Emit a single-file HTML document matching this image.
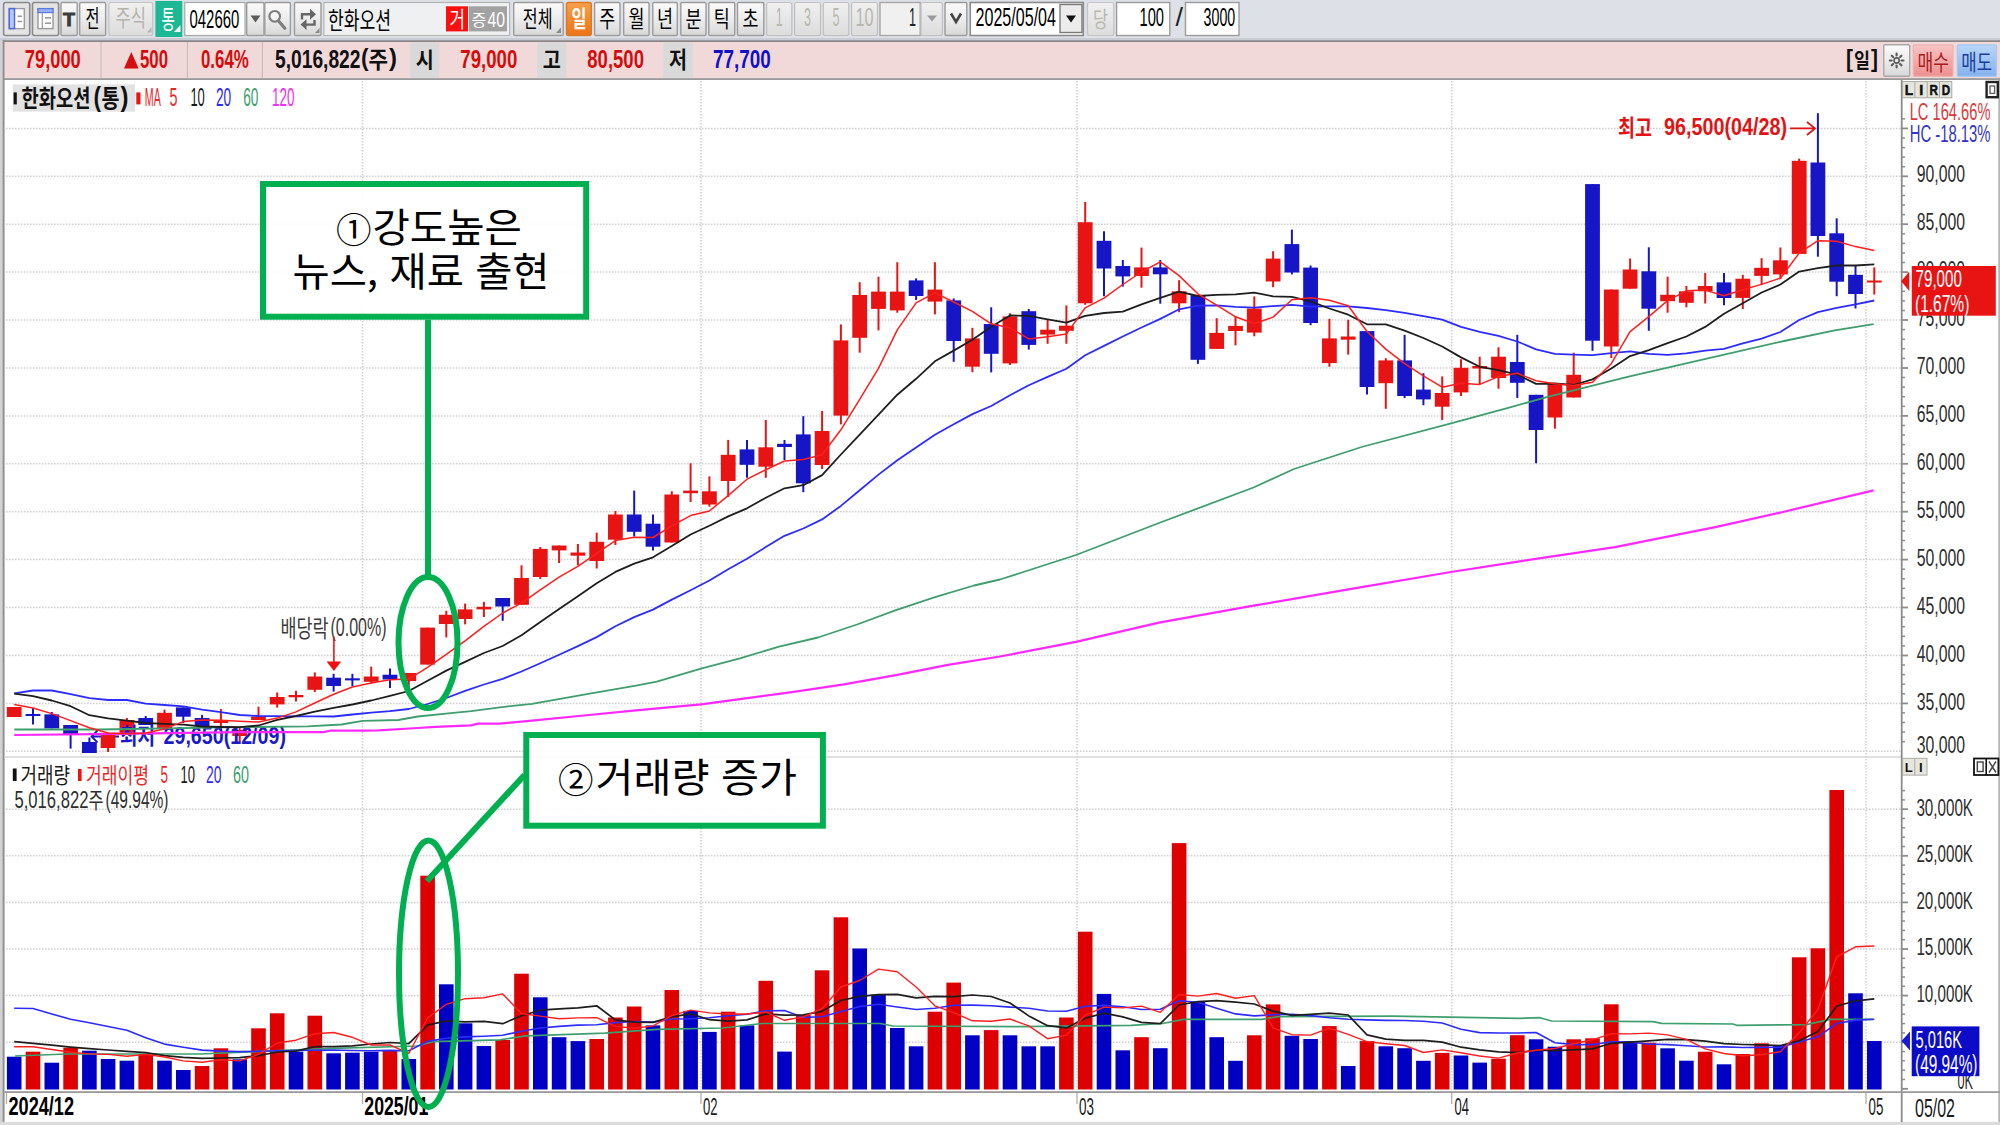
<!DOCTYPE html><html lang="ko"><head><meta charset="utf-8"><title>chart</title><style>html,body{margin:0;padding:0;background:#fff;overflow:hidden}svg{display:block;font-family:'Liberation Sans', 'Noto Sans CJK KR', sans-serif}</style></head><body>
<svg width="2000" height="1125" viewBox="0 0 2000 1125">
<defs><linearGradient id="bg" x1="0" y1="0" x2="0" y2="1"><stop offset="0" stop-color="#fbfbfb"/><stop offset="0.5" stop-color="#ececec"/><stop offset="1" stop-color="#d8d8d8"/></linearGradient><linearGradient id="bd" x1="0" y1="0" x2="0" y2="1"><stop offset="0" stop-color="#f0f0f0"/><stop offset="1" stop-color="#dcdcdc"/></linearGradient><linearGradient id="bo" x1="0" y1="0" x2="0" y2="1"><stop offset="0" stop-color="#f7a04a"/><stop offset="1" stop-color="#ec7416"/></linearGradient></defs>
<rect x="0.0" y="0.0" width="2000.0" height="1125.0" fill="#dde0e6"/>
<rect x="3.6" y="2.5" width="26.1" height="33.0" fill="#e4e4e4" stroke="#8a8a8a" stroke-width="1.6" rx="2"/>
<rect x="9.3" y="8.6" width="15.0" height="20.0" fill="#ffffff" stroke="#9a9a9a" stroke-width="1.4"/>
<rect x="9.3" y="8.6" width="5.2" height="20.0" fill="#b8c8f8" stroke="#4a6ae0" stroke-width="1.5"/>
<line x1="17.5" y1="16.3" x2="22.0" y2="16.3" stroke="#9a9a9a" stroke-width="1.6"/>
<line x1="17.5" y1="21.5" x2="22.0" y2="21.5" stroke="#9a9a9a" stroke-width="1.6"/>
<rect x="32.5" y="2.5" width="26.1" height="33.0" fill="#e4e4e4" stroke="#8a8a8a" stroke-width="1.6" rx="2"/>
<rect x="38.0" y="8.6" width="15.0" height="20.0" fill="#ffffff" stroke="#9a9a9a" stroke-width="1.4"/>
<rect x="38.0" y="8.6" width="15.0" height="4.0" fill="#9ab0f4" stroke="#5a78e0" stroke-width="1.2"/>
<line x1="42.3" y1="13.0" x2="42.3" y2="28.5" stroke="#9a9a9a" stroke-width="1.2"/>
<line x1="45.0" y1="17.8" x2="51.0" y2="17.8" stroke="#9a9a9a" stroke-width="1.6"/>
<line x1="45.0" y1="23.2" x2="51.0" y2="23.2" stroke="#9a9a9a" stroke-width="1.6"/>
<rect x="61.0" y="2.5" width="16.2" height="33.0" fill="url(#bg)" stroke="#9c9c9c" stroke-width="1.4" rx="1.2"/>
<text x="63.0" y="25.6" font-size="19.2" fill="#3c3c3c" font-weight="bold" textLength="12.0" lengthAdjust="spacingAndGlyphs" stroke="#3c3c3c" stroke-width="0.9">T</text>
<rect x="79.7" y="2.5" width="25.9" height="33.0" fill="url(#bg)" stroke="#9c9c9c" stroke-width="1.4" rx="1.2"/>
<text x="85.5" y="26.9" font-size="23.3" fill="#000" textLength="14.0" lengthAdjust="spacingAndGlyphs">전</text>
<rect x="108.9" y="2.5" width="43.7" height="33.0" fill="url(#bd)" stroke="#c4c4c4" stroke-width="1.2" rx="2"/>
<text x="115.5" y="26.4" font-size="22.2" fill="#b4b4ac" textLength="30.5" lengthAdjust="spacingAndGlyphs">주식</text>
<path d="M147 32.5 L151.5 32.5 L151.5 27 Z" fill="#b8b8b8"/>
<rect x="155.4" y="1.0" width="26.9" height="36.0" fill="#1cb894"/>
<text x="161.5" y="29.2" font-size="25.6" fill="#ffffff" textLength="13.5" lengthAdjust="spacingAndGlyphs">통</text>
<path d="M174 32 L180.5 32 L180.5 25 Z" fill="#ffffff"/>
<rect x="184.8" y="2.5" width="60.2" height="33.0" fill="#ffffff" stroke="#a8a8a8" stroke-width="1.2"/>
<text x="189.5" y="27.9" font-size="25.9" fill="#000" textLength="49.8" lengthAdjust="spacingAndGlyphs">042660</text>
<rect x="246.7" y="2.5" width="17.3" height="33.0" fill="url(#bg)" stroke="#9c9c9c" stroke-width="1.4" rx="1.2"/>
<path d="M250.5 15.5 L260.5 15.5 L255.5 22.5 Z" fill="#5a5a5a"/>
<rect x="264.8" y="2.5" width="25.6" height="33.0" fill="url(#bg)" stroke="#9c9c9c" stroke-width="1.4" rx="1.2"/>
<circle cx="274.7" cy="16.3" r="5.3" fill="#f6f6f6" stroke="#7e7e7e" stroke-width="2.2"/><line x1="278.8" y1="21.3" x2="284.8" y2="28.3" stroke="#7e7e7e" stroke-width="3.2" stroke-linecap="round"/>
<rect x="294.5" y="2.5" width="26.5" height="33.0" fill="url(#bg)" stroke="#9c9c9c" stroke-width="1.4" rx="1.2"/>
<path d="M302 19.5 V14.3 H311 M314.5 20 V24.6 H305.5" fill="none" stroke="#666" stroke-width="2.4"/><path d="M310 8.8 L316 14.3 L310 19.8 Z M306.5 19.2 L300.5 24.6 L306.5 30 Z" fill="#666"/>
<path d="M315 33 L319.5 33 L319.5 28 Z" fill="#8a8a8a"/>
<rect x="323.9" y="2.5" width="185.7" height="33.0" fill="#eef0f2" stroke="#b4b4b4" stroke-width="1.2"/>
<text x="328.0" y="28.8" font-size="23.9" fill="#000" textLength="63.0" lengthAdjust="spacingAndGlyphs">한화오션</text>
<rect x="446.0" y="6.3" width="22.0" height="25.1" fill="#fb0f0f"/>
<text x="449.5" y="27.0" font-size="21.1" fill="#ffffff" textLength="15.5" lengthAdjust="spacingAndGlyphs">거</text>
<rect x="469.0" y="6.3" width="38.0" height="25.1" fill="#a2a2a2"/>
<text x="471.5" y="26.0" font-size="16.0" fill="#ffffff" textLength="15.0" lengthAdjust="spacingAndGlyphs">증</text>
<text x="487.5" y="27.0" font-size="21.8" fill="#ffffff" textLength="17.5" lengthAdjust="spacingAndGlyphs">40</text>
<rect x="513.7" y="2.5" width="49.5" height="33.0" fill="url(#bg)" stroke="#9c9c9c" stroke-width="1.4" rx="1.2"/>
<text x="522.8" y="26.9" font-size="22.2" fill="#000" textLength="29.7" lengthAdjust="spacingAndGlyphs">전체</text>
<path d="M556 33 L561 33 L561 27.5 Z" fill="#8a8a8a"/>
<rect x="566.5" y="2.5" width="24.8" height="33.0" fill="url(#bo)" stroke="#d87a28" stroke-width="1.4" rx="2"/>
<text x="571.5" y="26.9" font-size="22.2" fill="#ffffff" font-weight="bold" textLength="15.0" lengthAdjust="spacingAndGlyphs">일</text>
<rect x="594.6" y="2.5" width="25.4" height="33.0" fill="url(#bg)" stroke="#9c9c9c" stroke-width="1.4" rx="1.2"/>
<text x="599.3" y="26.9" font-size="22.2" fill="#000" textLength="16.0" lengthAdjust="spacingAndGlyphs">주</text>
<rect x="623.7" y="2.5" width="25.3" height="33.0" fill="url(#bg)" stroke="#9c9c9c" stroke-width="1.4" rx="1.2"/>
<text x="628.4" y="26.9" font-size="22.2" fill="#000" textLength="16.0" lengthAdjust="spacingAndGlyphs">월</text>
<rect x="652.8" y="2.5" width="24.5" height="33.0" fill="url(#bg)" stroke="#9c9c9c" stroke-width="1.4" rx="1.2"/>
<text x="657.0" y="26.9" font-size="22.2" fill="#000" textLength="16.0" lengthAdjust="spacingAndGlyphs">년</text>
<rect x="680.8" y="2.5" width="25.2" height="33.0" fill="url(#bg)" stroke="#9c9c9c" stroke-width="1.4" rx="1.2"/>
<text x="685.4" y="26.9" font-size="22.2" fill="#000" textLength="16.0" lengthAdjust="spacingAndGlyphs">분</text>
<rect x="708.8" y="2.5" width="25.9" height="33.0" fill="url(#bg)" stroke="#9c9c9c" stroke-width="1.4" rx="1.2"/>
<text x="713.8" y="26.9" font-size="22.2" fill="#000" textLength="16.0" lengthAdjust="spacingAndGlyphs">틱</text>
<rect x="737.5" y="2.5" width="26.3" height="33.0" fill="url(#bg)" stroke="#9c9c9c" stroke-width="1.4" rx="1.2"/>
<text x="742.6" y="26.9" font-size="22.2" fill="#000" textLength="16.0" lengthAdjust="spacingAndGlyphs">초</text>
<rect x="766.6" y="2.5" width="25.2" height="33.0" fill="url(#bd)" stroke="#c0c0c0" stroke-width="1.2" rx="2"/>
<text x="775.7" y="26.2" font-size="25.2" fill="#b8b8b0" textLength="7.0" lengthAdjust="spacingAndGlyphs">1</text>
<rect x="794.6" y="2.5" width="25.9" height="33.0" fill="url(#bd)" stroke="#c0c0c0" stroke-width="1.2" rx="2"/>
<text x="804.0" y="26.2" font-size="25.2" fill="#b8b8b0" textLength="7.0" lengthAdjust="spacingAndGlyphs">3</text>
<rect x="823.3" y="2.5" width="25.5" height="33.0" fill="url(#bd)" stroke="#c0c0c0" stroke-width="1.2" rx="2"/>
<text x="832.5" y="26.2" font-size="25.2" fill="#b8b8b0" textLength="7.0" lengthAdjust="spacingAndGlyphs">5</text>
<rect x="851.6" y="2.5" width="25.9" height="33.0" fill="url(#bd)" stroke="#c0c0c0" stroke-width="1.2" rx="2"/>
<text x="855.5" y="26.2" font-size="25.2" fill="#b8b8b0" textLength="18.0" lengthAdjust="spacingAndGlyphs">10</text>
<rect x="880.0" y="2.5" width="40.2" height="33.0" fill="#f0f0f0" stroke="#a8a8a8" stroke-width="1.4"/>
<text x="909.0" y="26.2" font-size="25.9" fill="#222" textLength="7.0" lengthAdjust="spacingAndGlyphs">1</text>
<rect x="921.0" y="2.5" width="21.3" height="33.0" fill="url(#bd)" stroke="#c0c0c0" stroke-width="1.2" rx="2"/>
<path d="M927 15.5 L937 15.5 L932 21.5 Z" fill="#9a9a9a"/>
<rect x="945.0" y="2.5" width="21.8" height="33.0" fill="url(#bg)" stroke="#9c9c9c" stroke-width="1.4" rx="1.2"/>
<path d="M951 13.5 L956 22 L961 13.5" fill="none" stroke="#444" stroke-width="2.6"/>
<rect x="970.3" y="2.5" width="113.0" height="33.0" fill="#ffffff" stroke="#8c8c8c" stroke-width="1.6"/>
<text x="975.5" y="26.2" font-size="25.9" fill="#000" textLength="80.5" lengthAdjust="spacingAndGlyphs">2025/05/04</text>
<rect x="1060.0" y="4.5" width="22.0" height="28.0" fill="#ececec" stroke="#7a7a7a" stroke-width="1.4"/>
<path d="M1066 15.5 L1076 15.5 L1071 22.5 Z" fill="#111"/>
<rect x="1087.5" y="2.5" width="26.3" height="33.0" fill="url(#bd)" stroke="#c4c4c4" stroke-width="1.2" rx="2"/>
<text x="1093.0" y="26.5" font-size="21.1" fill="#b8b8b0" textLength="15.0" lengthAdjust="spacingAndGlyphs">당</text>
<rect x="1116.6" y="2.5" width="53.2" height="33.0" fill="#ffffff" stroke="#9c9c9c" stroke-width="1.4"/>
<text x="1139.5" y="26.2" font-size="25.9" fill="#000" textLength="24.5" lengthAdjust="spacingAndGlyphs">100</text>
<text x="1175.5" y="26.2" font-size="25.9" fill="#222" textLength="7.5" lengthAdjust="spacingAndGlyphs">/</text>
<rect x="1185.5" y="2.5" width="53.5" height="33.0" fill="#ffffff" stroke="#9c9c9c" stroke-width="1.4"/>
<text x="1203.6" y="26.2" font-size="25.9" fill="#000" textLength="31.6" lengthAdjust="spacingAndGlyphs">3000</text>
<rect x="0.0" y="38.0" width="2000.0" height="3.2" fill="#c9ccd2"/>
<rect x="4.0" y="40.3" width="1996.0" height="1.8" fill="#8a8686"/>
<rect x="4.0" y="42.0" width="1996.0" height="36.6" fill="#f1d9d9"/>
<rect x="4.0" y="78.2" width="1996.0" height="1.8" fill="#9a9a9a"/>
<line x1="101.0" y1="42.0" x2="101.0" y2="78.0" stroke="#cdbcbc" stroke-width="1.2"/>
<line x1="187.5" y1="42.0" x2="187.5" y2="78.0" stroke="#cdbcbc" stroke-width="1.2"/>
<line x1="262.4" y1="42.0" x2="262.4" y2="78.0" stroke="#cdbcbc" stroke-width="1.2"/>
<text x="24.8" y="68.4" font-size="25.9" fill="#d40c0c" font-weight="bold" textLength="56.0" lengthAdjust="spacingAndGlyphs">79,000</text>
<path d="M124 68.4 L131.3 52 L138.6 68.4 Z" fill="#d40c0c"/>
<text x="140.0" y="68.4" font-size="25.9" fill="#d40c0c" font-weight="bold" textLength="28.0" lengthAdjust="spacingAndGlyphs">500</text>
<text x="201.0" y="68.4" font-size="25.9" fill="#d40c0c" font-weight="bold" textLength="47.8" lengthAdjust="spacingAndGlyphs">0.64%</text>
<text x="275.0" y="68.4" font-size="25.9" fill="#111" font-weight="bold" textLength="85.5" lengthAdjust="spacingAndGlyphs">5,016,822</text>
<text x="361.0" y="66.4" font-size="24.5" fill="#111" font-weight="bold" textLength="7.5" lengthAdjust="spacingAndGlyphs">(</text>
<text x="368.5" y="67.9" font-size="22.2" fill="#111" font-weight="bold" textLength="19.5" lengthAdjust="spacingAndGlyphs">주</text>
<text x="389.0" y="66.4" font-size="24.5" fill="#111" font-weight="bold" textLength="8.0" lengthAdjust="spacingAndGlyphs">)</text>
<rect x="410.2" y="42.4" width="29.1" height="35.6" fill="#d9d9d9"/>
<text x="415.8" y="67.9" font-size="22.2" fill="#111" font-weight="bold" textLength="18.0" lengthAdjust="spacingAndGlyphs">시</text>
<rect x="537.3" y="42.4" width="29.0" height="35.6" fill="#d9d9d9"/>
<text x="542.8" y="67.9" font-size="22.2" fill="#111" font-weight="bold" textLength="18.0" lengthAdjust="spacingAndGlyphs">고</text>
<rect x="663.3" y="42.4" width="29.4" height="35.6" fill="#d9d9d9"/>
<text x="669.0" y="67.9" font-size="22.2" fill="#111" font-weight="bold" textLength="18.0" lengthAdjust="spacingAndGlyphs">저</text>
<text x="460.3" y="68.4" font-size="25.9" fill="#d40c0c" font-weight="bold" textLength="57.0" lengthAdjust="spacingAndGlyphs">79,000</text>
<text x="587.3" y="68.4" font-size="25.9" fill="#d40c0c" font-weight="bold" textLength="56.7" lengthAdjust="spacingAndGlyphs">80,500</text>
<text x="713.0" y="68.4" font-size="25.9" fill="#1010c8" font-weight="bold" textLength="57.8" lengthAdjust="spacingAndGlyphs">77,700</text>
<text x="1846.0" y="66.6" font-size="23.4" fill="#111" font-weight="bold" textLength="7.0" lengthAdjust="spacingAndGlyphs">[</text>
<text x="1854.0" y="68.4" font-size="20.6" fill="#111" font-weight="bold" textLength="16.0" lengthAdjust="spacingAndGlyphs">일</text>
<text x="1871.0" y="66.6" font-size="23.4" fill="#111" font-weight="bold" textLength="7.0" lengthAdjust="spacingAndGlyphs">]</text>
<rect x="1883.8" y="44.8" width="25.9" height="31.5" fill="url(#bg)" stroke="#a8a8a8" stroke-width="1.4" rx="1"/>
<circle cx="1896.6" cy="60.5" r="2.6" fill="none" stroke="#5c5c5c" stroke-width="1.6"/>
<line x1="1901.6" y1="60.5" x2="1903.4" y2="60.5" stroke="#5c5c5c" stroke-width="2.2" stroke-linecap="round"/>
<line x1="1900.1" y1="64.0" x2="1901.4" y2="65.3" stroke="#5c5c5c" stroke-width="2.2" stroke-linecap="round"/>
<line x1="1896.6" y1="65.5" x2="1896.6" y2="67.3" stroke="#5c5c5c" stroke-width="2.2" stroke-linecap="round"/>
<line x1="1893.1" y1="64.0" x2="1891.8" y2="65.3" stroke="#5c5c5c" stroke-width="2.2" stroke-linecap="round"/>
<line x1="1891.6" y1="60.5" x2="1889.8" y2="60.5" stroke="#5c5c5c" stroke-width="2.2" stroke-linecap="round"/>
<line x1="1893.1" y1="57.0" x2="1891.8" y2="55.7" stroke="#5c5c5c" stroke-width="2.2" stroke-linecap="round"/>
<line x1="1896.6" y1="55.5" x2="1896.6" y2="53.7" stroke="#5c5c5c" stroke-width="2.2" stroke-linecap="round"/>
<line x1="1900.1" y1="57.0" x2="1901.4" y2="55.7" stroke="#5c5c5c" stroke-width="2.2" stroke-linecap="round"/>
<linearGradient id="gbuy" x1="0" y1="0" x2="0" y2="1"><stop offset="0" stop-color="#f8c4c4"/><stop offset="1" stop-color="#ee9090"/></linearGradient><linearGradient id="gsell" x1="0" y1="0" x2="0" y2="1"><stop offset="0" stop-color="#b8d6fa"/><stop offset="1" stop-color="#84b2ee"/></linearGradient>
<rect x="1913.2" y="44.8" width="39.8" height="31.5" fill="url(#gbuy)" stroke="#eab4b4" stroke-width="1.2" rx="1"/>
<text x="1917.5" y="69.5" font-size="21.7" fill="#a81c1c" textLength="31.5" lengthAdjust="spacingAndGlyphs">매수</text>
<rect x="1957.3" y="44.8" width="39.2" height="31.5" fill="url(#gsell)" stroke="#a8c8f0" stroke-width="1.2" rx="1"/>
<text x="1961.3" y="69.5" font-size="21.7" fill="#1a3c9a" textLength="30.7" lengthAdjust="spacingAndGlyphs">매도</text>
<rect x="4.5" y="80.0" width="1995.5" height="1042.0" fill="#ffffff"/>
<rect x="0.0" y="40.0" width="2.6" height="1085.0" fill="#d2d2d2"/>
<rect x="2.6" y="40.0" width="1.9" height="1085.0" fill="#8e8e8e"/>
<rect x="0.0" y="1121.8" width="2000.0" height="3.2" fill="#dcdcdc"/>
<rect x="1998.3" y="80.0" width="1.7" height="1042.0" fill="#b4b4b4"/>
<line x1="6.0" y1="128.4" x2="1901.0" y2="128.4" stroke="#cecece" stroke-width="1.5" stroke-dasharray="1.5,1.5"/>
<line x1="6.0" y1="176.3" x2="1901.0" y2="176.3" stroke="#cecece" stroke-width="1.5" stroke-dasharray="1.5,1.5"/>
<line x1="6.0" y1="224.2" x2="1901.0" y2="224.2" stroke="#cecece" stroke-width="1.5" stroke-dasharray="1.5,1.5"/>
<line x1="6.0" y1="272.1" x2="1901.0" y2="272.1" stroke="#cecece" stroke-width="1.5" stroke-dasharray="1.5,1.5"/>
<line x1="6.0" y1="320.0" x2="1901.0" y2="320.0" stroke="#cecece" stroke-width="1.5" stroke-dasharray="1.5,1.5"/>
<line x1="6.0" y1="368.0" x2="1901.0" y2="368.0" stroke="#cecece" stroke-width="1.5" stroke-dasharray="1.5,1.5"/>
<line x1="6.0" y1="415.9" x2="1901.0" y2="415.9" stroke="#cecece" stroke-width="1.5" stroke-dasharray="1.5,1.5"/>
<line x1="6.0" y1="463.8" x2="1901.0" y2="463.8" stroke="#cecece" stroke-width="1.5" stroke-dasharray="1.5,1.5"/>
<line x1="6.0" y1="511.7" x2="1901.0" y2="511.7" stroke="#cecece" stroke-width="1.5" stroke-dasharray="1.5,1.5"/>
<line x1="6.0" y1="559.6" x2="1901.0" y2="559.6" stroke="#cecece" stroke-width="1.5" stroke-dasharray="1.5,1.5"/>
<line x1="6.0" y1="607.5" x2="1901.0" y2="607.5" stroke="#cecece" stroke-width="1.5" stroke-dasharray="1.5,1.5"/>
<line x1="6.0" y1="655.5" x2="1901.0" y2="655.5" stroke="#cecece" stroke-width="1.5" stroke-dasharray="1.5,1.5"/>
<line x1="6.0" y1="703.4" x2="1901.0" y2="703.4" stroke="#cecece" stroke-width="1.5" stroke-dasharray="1.5,1.5"/>
<line x1="6.0" y1="751.3" x2="1901.0" y2="751.3" stroke="#cecece" stroke-width="1.5" stroke-dasharray="1.5,1.5"/>
<line x1="362.5" y1="81.0" x2="362.5" y2="1090.0" stroke="#cecece" stroke-width="1.5" stroke-dasharray="1.5,1.5"/>
<line x1="701.0" y1="81.0" x2="701.0" y2="1090.0" stroke="#cecece" stroke-width="1.5" stroke-dasharray="1.5,1.5"/>
<line x1="1077.0" y1="81.0" x2="1077.0" y2="1090.0" stroke="#cecece" stroke-width="1.5" stroke-dasharray="1.5,1.5"/>
<line x1="1451.7" y1="81.0" x2="1451.7" y2="1090.0" stroke="#cecece" stroke-width="1.5" stroke-dasharray="1.5,1.5"/>
<line x1="1866.0" y1="81.0" x2="1866.0" y2="1090.0" stroke="#cecece" stroke-width="1.5" stroke-dasharray="1.5,1.5"/>
<line x1="6.0" y1="1042.2" x2="1901.0" y2="1042.2" stroke="#cecece" stroke-width="1.5" stroke-dasharray="1.5,1.5"/>
<line x1="6.0" y1="995.6" x2="1901.0" y2="995.6" stroke="#cecece" stroke-width="1.5" stroke-dasharray="1.5,1.5"/>
<line x1="6.0" y1="949.0" x2="1901.0" y2="949.0" stroke="#cecece" stroke-width="1.5" stroke-dasharray="1.5,1.5"/>
<line x1="6.0" y1="902.4" x2="1901.0" y2="902.4" stroke="#cecece" stroke-width="1.5" stroke-dasharray="1.5,1.5"/>
<line x1="6.0" y1="855.8" x2="1901.0" y2="855.8" stroke="#cecece" stroke-width="1.5" stroke-dasharray="1.5,1.5"/>
<line x1="6.0" y1="809.2" x2="1901.0" y2="809.2" stroke="#cecece" stroke-width="1.5" stroke-dasharray="1.5,1.5"/>
<line x1="4.5" y1="757.0" x2="1901.0" y2="757.0" stroke="#d6d6d6" stroke-width="1.6"/>
<rect x="1900.8" y="80.0" width="1.8" height="1042.0" fill="#8c8c8c"/>
<line x1="1901.0" y1="741.7" x2="1905.0" y2="741.7" stroke="#8c8c8c" stroke-width="1.5"/>
<line x1="1901.0" y1="732.1" x2="1905.0" y2="732.1" stroke="#8c8c8c" stroke-width="1.5"/>
<line x1="1901.0" y1="722.5" x2="1905.0" y2="722.5" stroke="#8c8c8c" stroke-width="1.5"/>
<line x1="1901.0" y1="712.9" x2="1905.0" y2="712.9" stroke="#8c8c8c" stroke-width="1.5"/>
<line x1="1901.0" y1="703.4" x2="1908.0" y2="703.4" stroke="#8c8c8c" stroke-width="1.8"/>
<line x1="1901.0" y1="693.8" x2="1905.0" y2="693.8" stroke="#8c8c8c" stroke-width="1.5"/>
<line x1="1901.0" y1="684.2" x2="1905.0" y2="684.2" stroke="#8c8c8c" stroke-width="1.5"/>
<line x1="1901.0" y1="674.6" x2="1905.0" y2="674.6" stroke="#8c8c8c" stroke-width="1.5"/>
<line x1="1901.0" y1="665.0" x2="1905.0" y2="665.0" stroke="#8c8c8c" stroke-width="1.5"/>
<line x1="1901.0" y1="655.5" x2="1908.0" y2="655.5" stroke="#8c8c8c" stroke-width="1.8"/>
<line x1="1901.0" y1="645.9" x2="1905.0" y2="645.9" stroke="#8c8c8c" stroke-width="1.5"/>
<line x1="1901.0" y1="636.3" x2="1905.0" y2="636.3" stroke="#8c8c8c" stroke-width="1.5"/>
<line x1="1901.0" y1="626.7" x2="1905.0" y2="626.7" stroke="#8c8c8c" stroke-width="1.5"/>
<line x1="1901.0" y1="617.1" x2="1905.0" y2="617.1" stroke="#8c8c8c" stroke-width="1.5"/>
<line x1="1901.0" y1="607.5" x2="1908.0" y2="607.5" stroke="#8c8c8c" stroke-width="1.8"/>
<line x1="1901.0" y1="598.0" x2="1905.0" y2="598.0" stroke="#8c8c8c" stroke-width="1.5"/>
<line x1="1901.0" y1="588.4" x2="1905.0" y2="588.4" stroke="#8c8c8c" stroke-width="1.5"/>
<line x1="1901.0" y1="578.8" x2="1905.0" y2="578.8" stroke="#8c8c8c" stroke-width="1.5"/>
<line x1="1901.0" y1="569.2" x2="1905.0" y2="569.2" stroke="#8c8c8c" stroke-width="1.5"/>
<line x1="1901.0" y1="559.6" x2="1908.0" y2="559.6" stroke="#8c8c8c" stroke-width="1.8"/>
<line x1="1901.0" y1="550.0" x2="1905.0" y2="550.0" stroke="#8c8c8c" stroke-width="1.5"/>
<line x1="1901.0" y1="540.5" x2="1905.0" y2="540.5" stroke="#8c8c8c" stroke-width="1.5"/>
<line x1="1901.0" y1="530.9" x2="1905.0" y2="530.9" stroke="#8c8c8c" stroke-width="1.5"/>
<line x1="1901.0" y1="521.3" x2="1905.0" y2="521.3" stroke="#8c8c8c" stroke-width="1.5"/>
<line x1="1901.0" y1="511.7" x2="1908.0" y2="511.7" stroke="#8c8c8c" stroke-width="1.8"/>
<line x1="1901.0" y1="502.1" x2="1905.0" y2="502.1" stroke="#8c8c8c" stroke-width="1.5"/>
<line x1="1901.0" y1="492.5" x2="1905.0" y2="492.5" stroke="#8c8c8c" stroke-width="1.5"/>
<line x1="1901.0" y1="483.0" x2="1905.0" y2="483.0" stroke="#8c8c8c" stroke-width="1.5"/>
<line x1="1901.0" y1="473.4" x2="1905.0" y2="473.4" stroke="#8c8c8c" stroke-width="1.5"/>
<line x1="1901.0" y1="463.8" x2="1908.0" y2="463.8" stroke="#8c8c8c" stroke-width="1.8"/>
<line x1="1901.0" y1="454.2" x2="1905.0" y2="454.2" stroke="#8c8c8c" stroke-width="1.5"/>
<line x1="1901.0" y1="444.6" x2="1905.0" y2="444.6" stroke="#8c8c8c" stroke-width="1.5"/>
<line x1="1901.0" y1="435.0" x2="1905.0" y2="435.0" stroke="#8c8c8c" stroke-width="1.5"/>
<line x1="1901.0" y1="425.5" x2="1905.0" y2="425.5" stroke="#8c8c8c" stroke-width="1.5"/>
<line x1="1901.0" y1="415.9" x2="1908.0" y2="415.9" stroke="#8c8c8c" stroke-width="1.8"/>
<line x1="1901.0" y1="406.3" x2="1905.0" y2="406.3" stroke="#8c8c8c" stroke-width="1.5"/>
<line x1="1901.0" y1="396.7" x2="1905.0" y2="396.7" stroke="#8c8c8c" stroke-width="1.5"/>
<line x1="1901.0" y1="387.1" x2="1905.0" y2="387.1" stroke="#8c8c8c" stroke-width="1.5"/>
<line x1="1901.0" y1="377.5" x2="1905.0" y2="377.5" stroke="#8c8c8c" stroke-width="1.5"/>
<line x1="1901.0" y1="368.0" x2="1908.0" y2="368.0" stroke="#8c8c8c" stroke-width="1.8"/>
<line x1="1901.0" y1="358.4" x2="1905.0" y2="358.4" stroke="#8c8c8c" stroke-width="1.5"/>
<line x1="1901.0" y1="348.8" x2="1905.0" y2="348.8" stroke="#8c8c8c" stroke-width="1.5"/>
<line x1="1901.0" y1="339.2" x2="1905.0" y2="339.2" stroke="#8c8c8c" stroke-width="1.5"/>
<line x1="1901.0" y1="329.6" x2="1905.0" y2="329.6" stroke="#8c8c8c" stroke-width="1.5"/>
<line x1="1901.0" y1="320.0" x2="1908.0" y2="320.0" stroke="#8c8c8c" stroke-width="1.8"/>
<line x1="1901.0" y1="310.5" x2="1905.0" y2="310.5" stroke="#8c8c8c" stroke-width="1.5"/>
<line x1="1901.0" y1="300.9" x2="1905.0" y2="300.9" stroke="#8c8c8c" stroke-width="1.5"/>
<line x1="1901.0" y1="291.3" x2="1905.0" y2="291.3" stroke="#8c8c8c" stroke-width="1.5"/>
<line x1="1901.0" y1="281.7" x2="1905.0" y2="281.7" stroke="#8c8c8c" stroke-width="1.5"/>
<line x1="1901.0" y1="272.1" x2="1908.0" y2="272.1" stroke="#8c8c8c" stroke-width="1.8"/>
<line x1="1901.0" y1="262.5" x2="1905.0" y2="262.5" stroke="#8c8c8c" stroke-width="1.5"/>
<line x1="1901.0" y1="253.0" x2="1905.0" y2="253.0" stroke="#8c8c8c" stroke-width="1.5"/>
<line x1="1901.0" y1="243.4" x2="1905.0" y2="243.4" stroke="#8c8c8c" stroke-width="1.5"/>
<line x1="1901.0" y1="233.8" x2="1905.0" y2="233.8" stroke="#8c8c8c" stroke-width="1.5"/>
<line x1="1901.0" y1="224.2" x2="1908.0" y2="224.2" stroke="#8c8c8c" stroke-width="1.8"/>
<line x1="1901.0" y1="214.6" x2="1905.0" y2="214.6" stroke="#8c8c8c" stroke-width="1.5"/>
<line x1="1901.0" y1="205.0" x2="1905.0" y2="205.0" stroke="#8c8c8c" stroke-width="1.5"/>
<line x1="1901.0" y1="195.5" x2="1905.0" y2="195.5" stroke="#8c8c8c" stroke-width="1.5"/>
<line x1="1901.0" y1="185.9" x2="1905.0" y2="185.9" stroke="#8c8c8c" stroke-width="1.5"/>
<line x1="1901.0" y1="176.3" x2="1908.0" y2="176.3" stroke="#8c8c8c" stroke-width="1.8"/>
<line x1="1901.0" y1="166.7" x2="1905.0" y2="166.7" stroke="#8c8c8c" stroke-width="1.5"/>
<line x1="1901.0" y1="157.1" x2="1905.0" y2="157.1" stroke="#8c8c8c" stroke-width="1.5"/>
<line x1="1901.0" y1="147.6" x2="1905.0" y2="147.6" stroke="#8c8c8c" stroke-width="1.5"/>
<line x1="1901.0" y1="138.0" x2="1905.0" y2="138.0" stroke="#8c8c8c" stroke-width="1.5"/>
<line x1="1901.0" y1="128.4" x2="1908.0" y2="128.4" stroke="#8c8c8c" stroke-width="1.8"/>
<line x1="1901.0" y1="118.8" x2="1905.0" y2="118.8" stroke="#8c8c8c" stroke-width="1.5"/>
<text x="1916.8" y="182.4" font-size="24.8" fill="#2e2e2e" textLength="48.2" lengthAdjust="spacingAndGlyphs">90,000</text>
<text x="1916.8" y="230.3" font-size="24.8" fill="#2e2e2e" textLength="48.2" lengthAdjust="spacingAndGlyphs">85,000</text>
<text x="1916.8" y="278.2" font-size="24.8" fill="#2e2e2e" textLength="48.2" lengthAdjust="spacingAndGlyphs">80,000</text>
<text x="1916.8" y="326.1" font-size="24.8" fill="#2e2e2e" textLength="48.2" lengthAdjust="spacingAndGlyphs">75,000</text>
<text x="1916.8" y="374.1" font-size="24.8" fill="#2e2e2e" textLength="48.2" lengthAdjust="spacingAndGlyphs">70,000</text>
<text x="1916.8" y="422.0" font-size="24.8" fill="#2e2e2e" textLength="48.2" lengthAdjust="spacingAndGlyphs">65,000</text>
<text x="1916.8" y="469.9" font-size="24.8" fill="#2e2e2e" textLength="48.2" lengthAdjust="spacingAndGlyphs">60,000</text>
<text x="1916.8" y="517.8" font-size="24.8" fill="#2e2e2e" textLength="48.2" lengthAdjust="spacingAndGlyphs">55,000</text>
<text x="1916.8" y="565.7" font-size="24.8" fill="#2e2e2e" textLength="48.2" lengthAdjust="spacingAndGlyphs">50,000</text>
<text x="1916.8" y="613.6" font-size="24.8" fill="#2e2e2e" textLength="48.2" lengthAdjust="spacingAndGlyphs">45,000</text>
<text x="1916.8" y="661.5" font-size="24.8" fill="#2e2e2e" textLength="48.2" lengthAdjust="spacingAndGlyphs">40,000</text>
<text x="1916.8" y="709.5" font-size="24.8" fill="#2e2e2e" textLength="48.2" lengthAdjust="spacingAndGlyphs">35,000</text>
<text x="1916.8" y="752.5" font-size="24.8" fill="#2e2e2e" textLength="48.2" lengthAdjust="spacingAndGlyphs">30,000</text>
<line x1="1901.0" y1="1088.8" x2="1908.0" y2="1088.8" stroke="#8c8c8c" stroke-width="1.8"/>
<line x1="1901.0" y1="1079.5" x2="1905.0" y2="1079.5" stroke="#8c8c8c" stroke-width="1.5"/>
<line x1="1901.0" y1="1070.2" x2="1905.0" y2="1070.2" stroke="#8c8c8c" stroke-width="1.5"/>
<line x1="1901.0" y1="1060.8" x2="1905.0" y2="1060.8" stroke="#8c8c8c" stroke-width="1.5"/>
<line x1="1901.0" y1="1051.5" x2="1905.0" y2="1051.5" stroke="#8c8c8c" stroke-width="1.5"/>
<line x1="1901.0" y1="1042.2" x2="1908.0" y2="1042.2" stroke="#8c8c8c" stroke-width="1.8"/>
<line x1="1901.0" y1="1032.9" x2="1905.0" y2="1032.9" stroke="#8c8c8c" stroke-width="1.5"/>
<line x1="1901.0" y1="1023.6" x2="1905.0" y2="1023.6" stroke="#8c8c8c" stroke-width="1.5"/>
<line x1="1901.0" y1="1014.2" x2="1905.0" y2="1014.2" stroke="#8c8c8c" stroke-width="1.5"/>
<line x1="1901.0" y1="1004.9" x2="1905.0" y2="1004.9" stroke="#8c8c8c" stroke-width="1.5"/>
<line x1="1901.0" y1="995.6" x2="1908.0" y2="995.6" stroke="#8c8c8c" stroke-width="1.8"/>
<line x1="1901.0" y1="986.3" x2="1905.0" y2="986.3" stroke="#8c8c8c" stroke-width="1.5"/>
<line x1="1901.0" y1="977.0" x2="1905.0" y2="977.0" stroke="#8c8c8c" stroke-width="1.5"/>
<line x1="1901.0" y1="967.6" x2="1905.0" y2="967.6" stroke="#8c8c8c" stroke-width="1.5"/>
<line x1="1901.0" y1="958.3" x2="1905.0" y2="958.3" stroke="#8c8c8c" stroke-width="1.5"/>
<line x1="1901.0" y1="949.0" x2="1908.0" y2="949.0" stroke="#8c8c8c" stroke-width="1.8"/>
<line x1="1901.0" y1="939.7" x2="1905.0" y2="939.7" stroke="#8c8c8c" stroke-width="1.5"/>
<line x1="1901.0" y1="930.4" x2="1905.0" y2="930.4" stroke="#8c8c8c" stroke-width="1.5"/>
<line x1="1901.0" y1="921.0" x2="1905.0" y2="921.0" stroke="#8c8c8c" stroke-width="1.5"/>
<line x1="1901.0" y1="911.7" x2="1905.0" y2="911.7" stroke="#8c8c8c" stroke-width="1.5"/>
<line x1="1901.0" y1="902.4" x2="1908.0" y2="902.4" stroke="#8c8c8c" stroke-width="1.8"/>
<line x1="1901.0" y1="893.1" x2="1905.0" y2="893.1" stroke="#8c8c8c" stroke-width="1.5"/>
<line x1="1901.0" y1="883.8" x2="1905.0" y2="883.8" stroke="#8c8c8c" stroke-width="1.5"/>
<line x1="1901.0" y1="874.4" x2="1905.0" y2="874.4" stroke="#8c8c8c" stroke-width="1.5"/>
<line x1="1901.0" y1="865.1" x2="1905.0" y2="865.1" stroke="#8c8c8c" stroke-width="1.5"/>
<line x1="1901.0" y1="855.8" x2="1908.0" y2="855.8" stroke="#8c8c8c" stroke-width="1.8"/>
<line x1="1901.0" y1="846.5" x2="1905.0" y2="846.5" stroke="#8c8c8c" stroke-width="1.5"/>
<line x1="1901.0" y1="837.2" x2="1905.0" y2="837.2" stroke="#8c8c8c" stroke-width="1.5"/>
<line x1="1901.0" y1="827.8" x2="1905.0" y2="827.8" stroke="#8c8c8c" stroke-width="1.5"/>
<line x1="1901.0" y1="818.5" x2="1905.0" y2="818.5" stroke="#8c8c8c" stroke-width="1.5"/>
<line x1="1901.0" y1="809.2" x2="1908.0" y2="809.2" stroke="#8c8c8c" stroke-width="1.8"/>
<line x1="1901.0" y1="799.9" x2="1905.0" y2="799.9" stroke="#8c8c8c" stroke-width="1.5"/>
<line x1="1901.0" y1="790.6" x2="1905.0" y2="790.6" stroke="#8c8c8c" stroke-width="1.5"/>
<text x="1916.4" y="815.6" font-size="24.2" fill="#2e2e2e" textLength="56.6" lengthAdjust="spacingAndGlyphs">30,000K</text>
<text x="1916.4" y="862.2" font-size="24.2" fill="#2e2e2e" textLength="56.6" lengthAdjust="spacingAndGlyphs">25,000K</text>
<text x="1916.4" y="908.8" font-size="24.2" fill="#2e2e2e" textLength="56.6" lengthAdjust="spacingAndGlyphs">20,000K</text>
<text x="1916.4" y="955.4" font-size="24.2" fill="#2e2e2e" textLength="56.6" lengthAdjust="spacingAndGlyphs">15,000K</text>
<text x="1916.4" y="1002.0" font-size="24.2" fill="#2e2e2e" textLength="56.6" lengthAdjust="spacingAndGlyphs">10,000K</text>
<text x="1957.5" y="1088.5" font-size="23.9" fill="#2e2e2e" textLength="15.5" lengthAdjust="spacingAndGlyphs">0K</text>
<rect x="4.5" y="1091.2" width="1995.5" height="1.8" fill="#9a9a9a"/>
<line x1="6.5" y1="1093.0" x2="6.5" y2="1104.0" stroke="#b0b0b0" stroke-width="1.3"/>
<line x1="362.5" y1="1093.0" x2="362.5" y2="1104.0" stroke="#b0b0b0" stroke-width="1.3"/>
<line x1="701.0" y1="1093.0" x2="701.0" y2="1104.0" stroke="#b0b0b0" stroke-width="1.3"/>
<line x1="1077.0" y1="1093.0" x2="1077.0" y2="1104.0" stroke="#b0b0b0" stroke-width="1.3"/>
<line x1="1451.7" y1="1093.0" x2="1451.7" y2="1104.0" stroke="#b0b0b0" stroke-width="1.3"/>
<line x1="1866.0" y1="1093.0" x2="1866.0" y2="1104.0" stroke="#b0b0b0" stroke-width="1.3"/>
<text x="8.5" y="1115.0" font-size="25.4" fill="#000" font-weight="bold" textLength="65.5" lengthAdjust="spacingAndGlyphs">2024/12</text>
<text x="364.3" y="1115.0" font-size="25.4" fill="#000" font-weight="bold" textLength="64.0" lengthAdjust="spacingAndGlyphs">2025/01</text>
<text x="703.0" y="1115.0" font-size="24.6" fill="#1a1a1a" textLength="14.6" lengthAdjust="spacingAndGlyphs">02</text>
<text x="1079.0" y="1115.0" font-size="24.6" fill="#1a1a1a" textLength="15.0" lengthAdjust="spacingAndGlyphs">03</text>
<text x="1454.6" y="1115.0" font-size="24.6" fill="#1a1a1a" textLength="14.4" lengthAdjust="spacingAndGlyphs">04</text>
<text x="1868.5" y="1115.0" font-size="24.6" fill="#1a1a1a" textLength="14.8" lengthAdjust="spacingAndGlyphs">05</text>
<text x="1915.0" y="1116.5" font-size="25.6" fill="#1a1a1a" textLength="40.0" lengthAdjust="spacingAndGlyphs">05/02</text>
<path d="M119 736.5 H92 M97.5 730.5 L91.5 736.5 L97.5 742.5" fill="none" stroke="#1a1ac8" stroke-width="1.8"/>
<line x1="14.2" y1="707.0" x2="14.2" y2="717.0" stroke="#e81414" stroke-width="2.0"/>
<rect x="6.8" y="707.0" width="14.8" height="10.0" fill="#e81414"/>
<line x1="33.0" y1="708.0" x2="33.0" y2="724.5" stroke="#1616c6" stroke-width="2.0"/>
<rect x="25.6" y="714.0" width="14.8" height="2.0" fill="#1616c6"/>
<line x1="51.8" y1="712.0" x2="51.8" y2="728.4" stroke="#1616c6" stroke-width="2.0"/>
<rect x="44.4" y="714.4" width="14.8" height="14.0" fill="#1616c6"/>
<line x1="70.6" y1="725.0" x2="70.6" y2="748.6" stroke="#1616c6" stroke-width="2.0"/>
<rect x="63.2" y="725.0" width="14.8" height="9.0" fill="#1616c6"/>
<line x1="89.4" y1="737.5" x2="89.4" y2="753.0" stroke="#1616c6" stroke-width="2.0"/>
<rect x="82.0" y="742.0" width="14.8" height="11.0" fill="#1616c6"/>
<line x1="108.1" y1="733.6" x2="108.1" y2="752.0" stroke="#e81414" stroke-width="2.0"/>
<rect x="100.7" y="733.6" width="14.8" height="14.4" fill="#e81414"/>
<line x1="126.9" y1="718.0" x2="126.9" y2="733.0" stroke="#e81414" stroke-width="2.0"/>
<rect x="119.5" y="720.0" width="14.8" height="13.0" fill="#e81414"/>
<line x1="145.7" y1="716.0" x2="145.7" y2="725.0" stroke="#1616c6" stroke-width="2.0"/>
<rect x="138.3" y="718.0" width="14.8" height="7.0" fill="#1616c6"/>
<line x1="164.5" y1="709.6" x2="164.5" y2="728.4" stroke="#e81414" stroke-width="2.0"/>
<rect x="157.1" y="712.8" width="14.8" height="15.6" fill="#e81414"/>
<line x1="183.3" y1="707.4" x2="183.3" y2="723.0" stroke="#1616c6" stroke-width="2.0"/>
<rect x="175.9" y="707.4" width="14.8" height="9.3" fill="#1616c6"/>
<line x1="202.1" y1="714.8" x2="202.1" y2="726.0" stroke="#1616c6" stroke-width="2.0"/>
<rect x="194.7" y="718.0" width="14.8" height="8.0" fill="#1616c6"/>
<line x1="220.9" y1="709.0" x2="220.9" y2="730.0" stroke="#e81414" stroke-width="2.0"/>
<rect x="213.5" y="721.0" width="14.8" height="2.0" fill="#e81414"/>
<line x1="239.7" y1="727.0" x2="239.7" y2="742.0" stroke="#e81414" stroke-width="2.0"/>
<rect x="232.3" y="730.0" width="14.8" height="6.0" fill="#e81414"/>
<line x1="258.5" y1="706.7" x2="258.5" y2="720.0" stroke="#e81414" stroke-width="2.0"/>
<rect x="251.1" y="716.5" width="14.8" height="3.5" fill="#e81414"/>
<line x1="277.2" y1="692.5" x2="277.2" y2="707.6" stroke="#e81414" stroke-width="2.0"/>
<rect x="269.8" y="697.0" width="14.8" height="7.4" fill="#e81414"/>
<line x1="296.0" y1="690.7" x2="296.0" y2="701.4" stroke="#e81414" stroke-width="2.0"/>
<rect x="288.6" y="695.0" width="14.8" height="2.3" fill="#e81414"/>
<line x1="314.8" y1="672.4" x2="314.8" y2="692.0" stroke="#e81414" stroke-width="2.0"/>
<rect x="307.4" y="676.5" width="14.8" height="13.3" fill="#e81414"/>
<line x1="333.6" y1="673.8" x2="333.6" y2="691.6" stroke="#1616c6" stroke-width="2.0"/>
<rect x="326.2" y="677.7" width="14.8" height="8.3" fill="#1616c6"/>
<line x1="352.4" y1="673.8" x2="352.4" y2="686.3" stroke="#1616c6" stroke-width="2.0"/>
<rect x="345.0" y="678.3" width="14.8" height="2.1" fill="#1616c6"/>
<line x1="371.2" y1="666.7" x2="371.2" y2="683.6" stroke="#e81414" stroke-width="2.0"/>
<rect x="363.8" y="676.5" width="14.8" height="5.3" fill="#e81414"/>
<line x1="390.0" y1="668.5" x2="390.0" y2="688.0" stroke="#1616c6" stroke-width="2.0"/>
<rect x="382.6" y="674.7" width="14.8" height="4.8" fill="#1616c6"/>
<line x1="408.8" y1="673.0" x2="408.8" y2="688.0" stroke="#e81414" stroke-width="2.0"/>
<rect x="401.4" y="673.0" width="14.8" height="8.0" fill="#e81414"/>
<line x1="427.6" y1="627.6" x2="427.6" y2="664.6" stroke="#e81414" stroke-width="2.0"/>
<rect x="420.2" y="627.6" width="14.8" height="37.0" fill="#e81414"/>
<line x1="446.3" y1="610.7" x2="446.3" y2="637.4" stroke="#e81414" stroke-width="2.0"/>
<rect x="438.9" y="614.8" width="14.8" height="9.2" fill="#e81414"/>
<line x1="465.1" y1="603.6" x2="465.1" y2="624.4" stroke="#e81414" stroke-width="2.0"/>
<rect x="457.7" y="609.4" width="14.8" height="9.6" fill="#e81414"/>
<line x1="483.9" y1="601.8" x2="483.9" y2="617.0" stroke="#e81414" stroke-width="2.0"/>
<rect x="476.5" y="606.8" width="14.8" height="2.6" fill="#e81414"/>
<line x1="502.7" y1="598.0" x2="502.7" y2="620.8" stroke="#1616c6" stroke-width="2.0"/>
<rect x="495.3" y="598.0" width="14.8" height="8.5" fill="#1616c6"/>
<line x1="521.5" y1="565.3" x2="521.5" y2="604.8" stroke="#e81414" stroke-width="2.0"/>
<rect x="514.1" y="578.0" width="14.8" height="26.8" fill="#e81414"/>
<line x1="540.3" y1="547.0" x2="540.3" y2="579.0" stroke="#e81414" stroke-width="2.0"/>
<rect x="532.9" y="548.9" width="14.8" height="28.1" fill="#e81414"/>
<line x1="559.1" y1="545.5" x2="559.1" y2="563.0" stroke="#e81414" stroke-width="2.0"/>
<rect x="551.7" y="545.5" width="14.8" height="4.9" fill="#e81414"/>
<line x1="577.9" y1="544.0" x2="577.9" y2="565.3" stroke="#e81414" stroke-width="2.0"/>
<rect x="570.5" y="552.5" width="14.8" height="3.2" fill="#e81414"/>
<line x1="596.7" y1="532.7" x2="596.7" y2="568.5" stroke="#e81414" stroke-width="2.0"/>
<rect x="589.3" y="541.8" width="14.8" height="19.2" fill="#e81414"/>
<line x1="615.4" y1="511.0" x2="615.4" y2="545.0" stroke="#e81414" stroke-width="2.0"/>
<rect x="608.0" y="514.5" width="14.8" height="25.2" fill="#e81414"/>
<line x1="634.2" y1="490.6" x2="634.2" y2="536.5" stroke="#1616c6" stroke-width="2.0"/>
<rect x="626.8" y="514.5" width="14.8" height="17.3" fill="#1616c6"/>
<line x1="653.0" y1="514.5" x2="653.0" y2="550.4" stroke="#1616c6" stroke-width="2.0"/>
<rect x="645.6" y="523.7" width="14.8" height="23.0" fill="#1616c6"/>
<line x1="671.8" y1="491.3" x2="671.8" y2="542.5" stroke="#e81414" stroke-width="2.0"/>
<rect x="664.4" y="494.5" width="14.8" height="48.0" fill="#e81414"/>
<line x1="690.6" y1="463.3" x2="690.6" y2="502.0" stroke="#e81414" stroke-width="2.0"/>
<rect x="683.2" y="490.6" width="14.8" height="2.6" fill="#e81414"/>
<line x1="709.4" y1="476.4" x2="709.4" y2="506.6" stroke="#e81414" stroke-width="2.0"/>
<rect x="702.0" y="491.3" width="14.8" height="13.2" fill="#e81414"/>
<line x1="728.2" y1="439.9" x2="728.2" y2="497.0" stroke="#e81414" stroke-width="2.0"/>
<rect x="720.8" y="454.8" width="14.8" height="26.2" fill="#e81414"/>
<line x1="747.0" y1="440.0" x2="747.0" y2="477.8" stroke="#1616c6" stroke-width="2.0"/>
<rect x="739.6" y="449.4" width="14.8" height="15.4" fill="#1616c6"/>
<line x1="765.8" y1="420.0" x2="765.8" y2="477.8" stroke="#e81414" stroke-width="2.0"/>
<rect x="758.4" y="447.3" width="14.8" height="19.4" fill="#e81414"/>
<line x1="784.5" y1="440.0" x2="784.5" y2="460.0" stroke="#1616c6" stroke-width="2.0"/>
<rect x="777.1" y="443.8" width="14.8" height="3.2" fill="#1616c6"/>
<line x1="803.3" y1="416.2" x2="803.3" y2="492.2" stroke="#1616c6" stroke-width="2.0"/>
<rect x="795.9" y="434.4" width="14.8" height="48.9" fill="#1616c6"/>
<line x1="822.1" y1="411.0" x2="822.1" y2="469.0" stroke="#e81414" stroke-width="2.0"/>
<rect x="814.7" y="431.0" width="14.8" height="34.0" fill="#e81414"/>
<line x1="840.9" y1="324.4" x2="840.9" y2="424.4" stroke="#e81414" stroke-width="2.0"/>
<rect x="833.5" y="340.4" width="14.8" height="75.2" fill="#e81414"/>
<line x1="859.7" y1="282.2" x2="859.7" y2="352.7" stroke="#e81414" stroke-width="2.0"/>
<rect x="852.3" y="295.0" width="14.8" height="42.8" fill="#e81414"/>
<line x1="878.5" y1="276.7" x2="878.5" y2="330.4" stroke="#e81414" stroke-width="2.0"/>
<rect x="871.1" y="291.6" width="14.8" height="17.3" fill="#e81414"/>
<line x1="897.3" y1="262.2" x2="897.3" y2="312.7" stroke="#e81414" stroke-width="2.0"/>
<rect x="889.9" y="291.6" width="14.8" height="18.8" fill="#e81414"/>
<line x1="916.1" y1="278.4" x2="916.1" y2="300.0" stroke="#1616c6" stroke-width="2.0"/>
<rect x="908.7" y="280.4" width="14.8" height="15.6" fill="#1616c6"/>
<line x1="934.9" y1="262.2" x2="934.9" y2="314.4" stroke="#e81414" stroke-width="2.0"/>
<rect x="927.5" y="289.6" width="14.8" height="12.0" fill="#e81414"/>
<line x1="953.7" y1="298.4" x2="953.7" y2="361.8" stroke="#1616c6" stroke-width="2.0"/>
<rect x="946.3" y="300.4" width="14.8" height="40.6" fill="#1616c6"/>
<line x1="972.4" y1="327.8" x2="972.4" y2="372.2" stroke="#e81414" stroke-width="2.0"/>
<rect x="965.0" y="338.4" width="14.8" height="28.3" fill="#e81414"/>
<line x1="991.2" y1="307.3" x2="991.2" y2="372.4" stroke="#1616c6" stroke-width="2.0"/>
<rect x="983.8" y="324.0" width="14.8" height="29.8" fill="#1616c6"/>
<line x1="1010.0" y1="313.3" x2="1010.0" y2="365.0" stroke="#e81414" stroke-width="2.0"/>
<rect x="1002.6" y="316.5" width="14.8" height="46.9" fill="#e81414"/>
<line x1="1028.8" y1="309.0" x2="1028.8" y2="349.6" stroke="#1616c6" stroke-width="2.0"/>
<rect x="1021.4" y="311.2" width="14.8" height="33.7" fill="#1616c6"/>
<line x1="1047.6" y1="319.7" x2="1047.6" y2="343.8" stroke="#e81414" stroke-width="2.0"/>
<rect x="1040.2" y="329.7" width="14.8" height="4.9" fill="#e81414"/>
<line x1="1066.4" y1="305.4" x2="1066.4" y2="343.8" stroke="#e81414" stroke-width="2.0"/>
<rect x="1059.0" y="325.7" width="14.8" height="5.1" fill="#e81414"/>
<line x1="1085.2" y1="202.0" x2="1085.2" y2="304.8" stroke="#e81414" stroke-width="2.0"/>
<rect x="1077.8" y="222.2" width="14.8" height="81.1" fill="#e81414"/>
<line x1="1104.0" y1="231.2" x2="1104.0" y2="296.2" stroke="#1616c6" stroke-width="2.0"/>
<rect x="1096.6" y="240.8" width="14.8" height="27.7" fill="#1616c6"/>
<line x1="1122.8" y1="260.0" x2="1122.8" y2="286.6" stroke="#1616c6" stroke-width="2.0"/>
<rect x="1115.4" y="266.0" width="14.8" height="10.4" fill="#1616c6"/>
<line x1="1141.5" y1="247.6" x2="1141.5" y2="287.7" stroke="#e81414" stroke-width="2.0"/>
<rect x="1134.1" y="267.4" width="14.8" height="8.6" fill="#e81414"/>
<line x1="1160.3" y1="260.0" x2="1160.3" y2="303.7" stroke="#1616c6" stroke-width="2.0"/>
<rect x="1152.9" y="267.4" width="14.8" height="6.9" fill="#1616c6"/>
<line x1="1179.1" y1="280.2" x2="1179.1" y2="312.2" stroke="#e81414" stroke-width="2.0"/>
<rect x="1171.7" y="291.3" width="14.8" height="12.0" fill="#e81414"/>
<line x1="1197.9" y1="295.2" x2="1197.9" y2="363.9" stroke="#1616c6" stroke-width="2.0"/>
<rect x="1190.5" y="295.2" width="14.8" height="64.6" fill="#1616c6"/>
<line x1="1216.7" y1="318.2" x2="1216.7" y2="348.9" stroke="#e81414" stroke-width="2.0"/>
<rect x="1209.3" y="332.9" width="14.8" height="16.0" fill="#e81414"/>
<line x1="1235.5" y1="316.6" x2="1235.5" y2="345.4" stroke="#e81414" stroke-width="2.0"/>
<rect x="1228.1" y="325.9" width="14.8" height="5.1" fill="#e81414"/>
<line x1="1254.3" y1="296.4" x2="1254.3" y2="336.3" stroke="#e81414" stroke-width="2.0"/>
<rect x="1246.9" y="308.5" width="14.8" height="24.1" fill="#e81414"/>
<line x1="1273.1" y1="251.2" x2="1273.1" y2="287.2" stroke="#e81414" stroke-width="2.0"/>
<rect x="1265.7" y="258.6" width="14.8" height="22.9" fill="#e81414"/>
<line x1="1291.9" y1="229.6" x2="1291.9" y2="274.4" stroke="#1616c6" stroke-width="2.0"/>
<rect x="1284.5" y="244.1" width="14.8" height="28.4" fill="#1616c6"/>
<line x1="1310.6" y1="265.5" x2="1310.6" y2="325.2" stroke="#1616c6" stroke-width="2.0"/>
<rect x="1303.2" y="267.6" width="14.8" height="55.4" fill="#1616c6"/>
<line x1="1329.4" y1="318.8" x2="1329.4" y2="366.8" stroke="#e81414" stroke-width="2.0"/>
<rect x="1322.0" y="338.4" width="14.8" height="24.7" fill="#e81414"/>
<line x1="1348.2" y1="319.8" x2="1348.2" y2="354.6" stroke="#e81414" stroke-width="2.0"/>
<rect x="1340.8" y="336.5" width="14.8" height="3.2" fill="#e81414"/>
<line x1="1367.0" y1="331.1" x2="1367.0" y2="394.5" stroke="#1616c6" stroke-width="2.0"/>
<rect x="1359.6" y="331.1" width="14.8" height="55.9" fill="#1616c6"/>
<line x1="1385.8" y1="358.2" x2="1385.8" y2="408.8" stroke="#e81414" stroke-width="2.0"/>
<rect x="1378.4" y="360.4" width="14.8" height="22.8" fill="#e81414"/>
<line x1="1404.6" y1="334.8" x2="1404.6" y2="398.1" stroke="#1616c6" stroke-width="2.0"/>
<rect x="1397.2" y="360.4" width="14.8" height="35.6" fill="#1616c6"/>
<line x1="1423.4" y1="373.2" x2="1423.4" y2="405.2" stroke="#1616c6" stroke-width="2.0"/>
<rect x="1416.0" y="389.6" width="14.8" height="9.8" fill="#1616c6"/>
<line x1="1442.2" y1="376.4" x2="1442.2" y2="420.1" stroke="#e81414" stroke-width="2.0"/>
<rect x="1434.8" y="393.0" width="14.8" height="13.7" fill="#e81414"/>
<line x1="1461.0" y1="359.3" x2="1461.0" y2="396.0" stroke="#e81414" stroke-width="2.0"/>
<rect x="1453.6" y="367.8" width="14.8" height="24.6" fill="#e81414"/>
<line x1="1479.7" y1="356.7" x2="1479.7" y2="384.8" stroke="#e81414" stroke-width="2.0"/>
<rect x="1472.3" y="366.0" width="14.8" height="2.5" fill="#e81414"/>
<line x1="1498.5" y1="347.3" x2="1498.5" y2="388.7" stroke="#e81414" stroke-width="2.0"/>
<rect x="1491.1" y="356.7" width="14.8" height="21.3" fill="#e81414"/>
<line x1="1517.3" y1="334.8" x2="1517.3" y2="398.0" stroke="#1616c6" stroke-width="2.0"/>
<rect x="1509.9" y="362.0" width="14.8" height="20.8" fill="#1616c6"/>
<line x1="1536.1" y1="394.8" x2="1536.1" y2="463.3" stroke="#1616c6" stroke-width="2.0"/>
<rect x="1528.7" y="394.8" width="14.8" height="35.2" fill="#1616c6"/>
<line x1="1554.9" y1="383.3" x2="1554.9" y2="428.7" stroke="#e81414" stroke-width="2.0"/>
<rect x="1547.5" y="383.3" width="14.8" height="34.2" fill="#e81414"/>
<line x1="1573.7" y1="352.7" x2="1573.7" y2="397.5" stroke="#e81414" stroke-width="2.0"/>
<rect x="1566.3" y="374.8" width="14.8" height="22.7" fill="#e81414"/>
<line x1="1592.5" y1="184.1" x2="1592.5" y2="350.8" stroke="#1616c6" stroke-width="2.0"/>
<rect x="1585.1" y="184.1" width="14.8" height="156.6" fill="#1616c6"/>
<line x1="1611.3" y1="289.5" x2="1611.3" y2="358.0" stroke="#e81414" stroke-width="2.0"/>
<rect x="1603.9" y="289.5" width="14.8" height="57.0" fill="#e81414"/>
<line x1="1630.1" y1="258.5" x2="1630.1" y2="288.7" stroke="#e81414" stroke-width="2.0"/>
<rect x="1622.7" y="269.5" width="14.8" height="19.2" fill="#e81414"/>
<line x1="1648.8" y1="247.3" x2="1648.8" y2="330.8" stroke="#1616c6" stroke-width="2.0"/>
<rect x="1641.4" y="271.3" width="14.8" height="37.4" fill="#1616c6"/>
<line x1="1667.6" y1="276.7" x2="1667.6" y2="312.7" stroke="#e81414" stroke-width="2.0"/>
<rect x="1660.2" y="294.8" width="14.8" height="6.4" fill="#e81414"/>
<line x1="1686.4" y1="286.0" x2="1686.4" y2="307.3" stroke="#e81414" stroke-width="2.0"/>
<rect x="1679.0" y="291.3" width="14.8" height="11.5" fill="#e81414"/>
<line x1="1705.2" y1="273.0" x2="1705.2" y2="303.5" stroke="#e81414" stroke-width="2.0"/>
<rect x="1697.8" y="286.0" width="14.8" height="5.3" fill="#e81414"/>
<line x1="1724.0" y1="273.0" x2="1724.0" y2="305.3" stroke="#1616c6" stroke-width="2.0"/>
<rect x="1716.6" y="282.4" width="14.8" height="15.6" fill="#1616c6"/>
<line x1="1742.8" y1="274.8" x2="1742.8" y2="309.0" stroke="#e81414" stroke-width="2.0"/>
<rect x="1735.4" y="278.7" width="14.8" height="19.2" fill="#e81414"/>
<line x1="1761.6" y1="258.2" x2="1761.6" y2="284.4" stroke="#e81414" stroke-width="2.0"/>
<rect x="1754.2" y="267.8" width="14.8" height="8.1" fill="#e81414"/>
<line x1="1780.4" y1="247.5" x2="1780.4" y2="279.1" stroke="#e81414" stroke-width="2.0"/>
<rect x="1773.0" y="260.3" width="14.8" height="14.1" fill="#e81414"/>
<line x1="1799.2" y1="158.6" x2="1799.2" y2="253.9" stroke="#e81414" stroke-width="2.0"/>
<rect x="1791.8" y="160.8" width="14.8" height="93.1" fill="#e81414"/>
<line x1="1817.9" y1="113.2" x2="1817.9" y2="256.7" stroke="#1616c6" stroke-width="2.0"/>
<rect x="1810.5" y="162.5" width="14.8" height="73.5" fill="#1616c6"/>
<line x1="1836.7" y1="218.3" x2="1836.7" y2="296.2" stroke="#1616c6" stroke-width="2.0"/>
<rect x="1829.3" y="233.3" width="14.8" height="48.4" fill="#1616c6"/>
<line x1="1855.5" y1="265.2" x2="1855.5" y2="308.5" stroke="#1616c6" stroke-width="2.0"/>
<rect x="1848.1" y="274.8" width="14.8" height="19.2" fill="#1616c6"/>
<line x1="1874.3" y1="267.4" x2="1874.3" y2="294.5" stroke="#e81414" stroke-width="2.0"/>
<rect x="1866.9" y="280.5" width="14.8" height="2.0" fill="#e81414"/>
<text x="120.0" y="744.4" font-size="22.2" fill="#1a1ac8" font-weight="bold" textLength="35.0" lengthAdjust="spacingAndGlyphs">최저</text>
<text x="163.5" y="744.2" font-size="23.9" fill="#1a1ac8" font-weight="bold" textLength="122.5" lengthAdjust="spacingAndGlyphs">29,650(12/09)</text>
<text x="1618.0" y="135.7" font-size="22.6" fill="#e01414" font-weight="bold" textLength="34.0" lengthAdjust="spacingAndGlyphs">최고</text>
<text x="1664.0" y="134.8" font-size="23.7" fill="#e01414" font-weight="bold" textLength="123.0" lengthAdjust="spacingAndGlyphs">96,500(04/28)</text>
<path d="M1790 128.4 H1814 M1807 122 L1815 128.4 L1807 135" fill="none" stroke="#e01414" stroke-width="1.8"/>
<text x="280.5" y="636.9" font-size="23.3" fill="#3a3a3a" textLength="48.0" lengthAdjust="spacingAndGlyphs">배당락</text>
<text x="330.5" y="636.0" font-size="25.1" fill="#3a3a3a" textLength="56.0" lengthAdjust="spacingAndGlyphs">(0.00%)</text>
<line x1="333.9" y1="636.5" x2="333.9" y2="662.0" stroke="#f01010" stroke-width="1.6"/>
<path d="M326.6 661.5 L341.2 661.5 L333.9 671 Z" fill="#f01010"/>
<polyline fill="none" stroke="#ff28ff" stroke-width="2.2" stroke-linejoin="round" points="14.3,735.0 117.0,733.9 240.0,732.1 323.6,732.1 330.0,730.7 362.7,730.7 378.7,730.4 417.8,728.0 435.6,726.8 471.0,725.4 478.0,723.6 500.0,723.6 532.0,720.7 584.0,715.5 636.0,710.3 701.0,704.3 740.0,699.1 792.0,692.1 844.0,684.3 896.0,675.2 948.0,664.8 1000.0,656.5 1076.0,641.9 1159.0,622.6 1253.5,605.7 1361.6,587.2 1451.0,572.0 1510.0,562.8 1615.0,547.2 1716.5,526.9 1784.0,511.7 1873.6,490.4"/>
<polyline fill="none" stroke="#3e9e6e" stroke-width="1.8" stroke-linejoin="round" points="14.3,729.5 100.0,729.5 240.0,727.2 307.6,726.3 341.4,724.5 362.7,720.9 398.3,720.0 417.8,716.5 453.4,712.9 471.2,711.2 500.0,707.3 532.0,703.8 584.0,694.7 636.0,685.6 656.8,681.7 701.0,668.7 740.0,658.3 779.0,646.6 818.0,637.5 857.0,624.5 896.0,610.2 935.0,597.2 974.0,585.5 1000.0,579.5 1076.0,555.0 1159.0,523.0 1253.5,487.5 1294.0,469.0 1361.6,447.0 1451.0,423.3 1510.0,407.4 1547.6,396.8 1628.6,376.6 1716.5,356.3 1784.0,341.0 1834.7,330.3 1873.6,324.2"/>
<polyline fill="none" stroke="#2c2cff" stroke-width="1.8" stroke-linejoin="round" points="14.2,693.3 33.0,690.5 51.8,690.5 70.6,694.2 89.4,698.2 108.1,700.0 126.9,700.0 145.7,703.7 164.5,705.0 183.3,706.4 202.1,709.7 220.9,712.1 239.7,715.0 258.5,716.0 277.2,716.2 296.0,716.3 314.8,716.4 333.6,716.5 352.4,714.5 371.2,712.6 390.0,711.2 408.8,709.0 427.6,704.0 446.3,698.0 465.1,690.9 483.9,684.5 502.7,678.9 521.5,671.5 540.3,663.3 559.1,654.7 577.9,646.1 596.7,637.1 615.4,626.3 634.2,617.1 653.0,609.6 671.8,599.6 690.6,590.3 709.4,580.5 728.2,569.2 747.0,558.7 765.8,547.1 784.5,535.8 803.3,528.5 822.1,519.4 840.9,505.9 859.7,490.3 878.5,474.6 897.3,460.2 916.1,447.6 934.9,434.8 953.7,424.2 972.4,414.1 991.2,406.0 1010.0,395.3 1028.8,385.2 1047.6,376.9 1066.4,368.7 1085.2,355.2 1104.0,345.9 1122.8,336.5 1141.5,327.5 1160.3,318.9 1179.1,309.3 1197.9,305.7 1216.7,305.3 1235.5,306.9 1254.3,307.7 1273.1,306.1 1291.9,304.9 1310.6,306.6 1329.4,306.4 1348.2,306.3 1367.0,308.0 1385.8,310.2 1404.6,312.8 1423.4,316.2 1442.2,319.6 1461.0,326.9 1479.7,331.8 1498.5,335.8 1517.3,341.5 1536.1,349.3 1554.9,353.9 1573.7,354.7 1592.5,355.1 1611.3,353.2 1630.1,351.3 1648.8,353.8 1667.6,354.9 1686.4,353.3 1705.2,350.7 1724.0,348.8 1742.8,343.4 1761.6,338.7 1780.4,332.0 1799.2,320.0 1817.9,312.2 1836.7,307.9 1855.5,304.3 1874.3,300.5"/>
<polyline fill="none" stroke="#1e1e1e" stroke-width="1.8" stroke-linejoin="round" points="14.2,693.6 33.0,696.2 51.8,700.5 70.6,706.2 89.4,715.2 108.1,718.3 126.9,720.6 145.7,723.0 164.5,723.8 183.3,724.6 202.1,726.5 220.9,727.0 239.7,727.2 258.5,725.5 277.2,719.9 296.0,716.0 314.8,711.6 333.6,707.8 352.4,704.5 371.2,700.5 390.0,695.8 408.8,691.0 427.6,680.8 446.3,670.6 465.1,661.9 483.9,653.0 502.7,646.0 521.5,635.2 540.3,622.1 559.1,609.0 577.9,596.3 596.7,583.2 615.4,571.9 634.2,563.6 653.0,557.3 671.8,546.1 690.6,534.5 709.4,525.8 728.2,516.4 747.0,508.3 765.8,497.8 784.5,488.3 803.3,485.2 822.1,475.1 840.9,454.5 859.7,434.6 878.5,414.6 897.3,394.7 916.1,378.8 934.9,361.3 953.7,350.6 972.4,339.8 991.2,326.8 1010.0,315.4 1028.8,315.8 1047.6,319.3 1066.4,322.7 1085.2,315.8 1104.0,313.0 1122.8,311.7 1141.5,304.4 1160.3,297.9 1179.1,291.7 1197.9,296.0 1216.7,294.8 1235.5,294.4 1254.3,292.7 1273.1,296.4 1291.9,296.8 1310.6,301.4 1329.4,308.5 1348.2,314.7 1367.0,324.3 1385.8,324.4 1404.6,330.7 1423.4,338.0 1442.2,346.5 1461.0,357.4 1479.7,366.8 1498.5,370.1 1517.3,374.6 1536.1,383.9 1554.9,383.5 1573.7,385.0 1592.5,379.4 1611.3,368.5 1630.1,356.1 1648.8,350.2 1667.6,343.1 1686.4,336.5 1705.2,326.9 1724.0,313.7 1742.8,303.2 1761.6,292.5 1780.4,284.5 1799.2,271.6 1817.9,268.2 1836.7,265.5 1855.5,265.5 1874.3,264.4"/>
<polyline fill="none" stroke="#ff1e1e" stroke-width="1.5" stroke-linejoin="round" points="14.2,704.5 33.0,708.0 51.8,713.6 70.6,720.6 89.4,727.7 108.1,733.0 126.9,733.8 145.7,733.1 164.5,728.9 183.3,721.6 202.1,720.1 220.9,720.3 239.7,721.3 258.5,722.0 277.2,718.1 296.0,711.9 314.8,703.0 333.6,694.2 352.4,687.0 371.2,682.9 390.0,679.8 408.8,679.1 427.6,667.4 446.3,654.3 465.1,640.9 483.9,626.3 502.7,613.0 521.5,603.1 540.3,589.9 559.1,577.1 577.9,566.3 596.7,553.3 615.4,540.6 634.2,537.2 653.0,537.5 671.8,525.9 690.6,515.6 709.4,511.0 728.2,495.6 747.0,479.2 765.8,469.8 784.5,461.0 803.3,459.4 822.1,454.7 840.9,429.8 859.7,399.3 878.5,368.3 897.3,329.9 916.1,302.9 934.9,292.8 953.7,302.0 972.4,311.3 991.2,323.8 1010.0,327.9 1028.8,338.9 1047.6,336.7 1066.4,334.1 1085.2,307.8 1104.0,298.2 1122.8,284.5 1141.5,272.0 1160.3,261.8 1179.1,275.6 1197.9,293.8 1216.7,305.1 1235.5,316.8 1254.3,323.7 1273.1,317.1 1291.9,299.7 1310.6,297.7 1329.4,300.2 1348.2,305.8 1367.0,331.5 1385.8,349.1 1404.6,363.7 1423.4,375.9 1442.2,387.2 1461.0,383.3 1479.7,384.4 1498.5,376.6 1517.3,373.3 1536.1,380.7 1554.9,383.8 1573.7,385.5 1592.5,382.3 1611.3,363.7 1630.1,331.6 1648.8,316.6 1667.6,300.6 1686.4,290.8 1705.2,290.1 1724.0,295.8 1742.8,289.8 1761.6,284.4 1780.4,278.2 1799.2,253.1 1817.9,240.7 1836.7,241.3 1855.5,246.6 1874.3,250.6"/>
<rect x="6.9" y="1056.7" width="14.6" height="32.8" fill="#0000c4"/>
<rect x="25.7" y="1051.7" width="14.6" height="37.8" fill="#de0000"/>
<rect x="44.5" y="1062.7" width="14.6" height="26.8" fill="#0000c4"/>
<rect x="63.3" y="1047.7" width="14.6" height="41.8" fill="#de0000"/>
<rect x="82.1" y="1050.7" width="14.6" height="38.8" fill="#0000c4"/>
<rect x="100.8" y="1059.0" width="14.6" height="30.5" fill="#0000c4"/>
<rect x="119.6" y="1060.7" width="14.6" height="28.8" fill="#0000c4"/>
<rect x="138.4" y="1054.0" width="14.6" height="35.5" fill="#de0000"/>
<rect x="157.2" y="1060.7" width="14.6" height="28.8" fill="#0000c4"/>
<rect x="176.0" y="1070.0" width="14.6" height="19.5" fill="#0000c4"/>
<rect x="194.8" y="1066.0" width="14.6" height="23.5" fill="#de0000"/>
<rect x="213.6" y="1048.3" width="14.6" height="41.2" fill="#de0000"/>
<rect x="232.4" y="1059.3" width="14.6" height="30.2" fill="#0000c4"/>
<rect x="251.2" y="1028.3" width="14.6" height="61.2" fill="#de0000"/>
<rect x="269.9" y="1013.3" width="14.6" height="76.2" fill="#de0000"/>
<rect x="288.7" y="1051.7" width="14.6" height="37.8" fill="#0000c4"/>
<rect x="307.5" y="1015.7" width="14.6" height="73.8" fill="#de0000"/>
<rect x="326.3" y="1053.3" width="14.6" height="36.2" fill="#0000c4"/>
<rect x="345.1" y="1052.7" width="14.6" height="36.8" fill="#0000c4"/>
<rect x="363.9" y="1051.7" width="14.6" height="37.8" fill="#0000c4"/>
<rect x="382.7" y="1051.0" width="14.6" height="38.5" fill="#de0000"/>
<rect x="401.5" y="1059.0" width="14.6" height="30.5" fill="#0000c4"/>
<rect x="420.3" y="875.7" width="14.6" height="213.8" fill="#de0000"/>
<rect x="439.0" y="984.3" width="14.6" height="105.2" fill="#0000c4"/>
<rect x="457.8" y="1023.3" width="14.6" height="66.2" fill="#0000c4"/>
<rect x="476.6" y="1046.0" width="14.6" height="43.5" fill="#0000c4"/>
<rect x="495.4" y="1040.0" width="14.6" height="49.5" fill="#de0000"/>
<rect x="514.2" y="973.7" width="14.6" height="115.8" fill="#de0000"/>
<rect x="533.0" y="997.3" width="14.6" height="92.2" fill="#0000c4"/>
<rect x="551.8" y="1037.2" width="14.6" height="52.3" fill="#0000c4"/>
<rect x="570.6" y="1041.1" width="14.6" height="48.4" fill="#0000c4"/>
<rect x="589.4" y="1039.0" width="14.6" height="50.5" fill="#de0000"/>
<rect x="608.1" y="1017.5" width="14.6" height="72.0" fill="#de0000"/>
<rect x="626.9" y="1006.5" width="14.6" height="83.0" fill="#de0000"/>
<rect x="645.7" y="1025.4" width="14.6" height="64.1" fill="#0000c4"/>
<rect x="664.5" y="990.0" width="14.6" height="99.5" fill="#de0000"/>
<rect x="683.3" y="1010.9" width="14.6" height="78.6" fill="#0000c4"/>
<rect x="702.1" y="1031.9" width="14.6" height="57.6" fill="#0000c4"/>
<rect x="720.9" y="1011.7" width="14.6" height="77.8" fill="#de0000"/>
<rect x="739.7" y="1025.4" width="14.6" height="64.1" fill="#0000c4"/>
<rect x="758.5" y="980.8" width="14.6" height="108.7" fill="#de0000"/>
<rect x="777.2" y="1051.6" width="14.6" height="37.9" fill="#0000c4"/>
<rect x="796.0" y="1014.9" width="14.6" height="74.6" fill="#de0000"/>
<rect x="814.8" y="970.3" width="14.6" height="119.2" fill="#de0000"/>
<rect x="833.6" y="917.3" width="14.6" height="172.2" fill="#de0000"/>
<rect x="852.4" y="948.5" width="14.6" height="141.0" fill="#0000c4"/>
<rect x="871.2" y="994.7" width="14.6" height="94.8" fill="#0000c4"/>
<rect x="890.0" y="1028.0" width="14.6" height="61.5" fill="#0000c4"/>
<rect x="908.8" y="1046.3" width="14.6" height="43.2" fill="#0000c4"/>
<rect x="927.6" y="1011.7" width="14.6" height="77.8" fill="#de0000"/>
<rect x="946.4" y="982.6" width="14.6" height="106.9" fill="#de0000"/>
<rect x="965.1" y="1035.3" width="14.6" height="54.2" fill="#0000c4"/>
<rect x="983.9" y="1030.1" width="14.6" height="59.4" fill="#de0000"/>
<rect x="1002.7" y="1035.3" width="14.6" height="54.2" fill="#0000c4"/>
<rect x="1021.5" y="1046.3" width="14.6" height="43.2" fill="#0000c4"/>
<rect x="1040.3" y="1046.3" width="14.6" height="43.2" fill="#0000c4"/>
<rect x="1059.1" y="1017.5" width="14.6" height="72.0" fill="#de0000"/>
<rect x="1077.9" y="931.7" width="14.6" height="157.8" fill="#de0000"/>
<rect x="1096.7" y="993.9" width="14.6" height="95.6" fill="#0000c4"/>
<rect x="1115.5" y="1050.3" width="14.6" height="39.2" fill="#0000c4"/>
<rect x="1134.2" y="1037.2" width="14.6" height="52.3" fill="#de0000"/>
<rect x="1153.0" y="1048.2" width="14.6" height="41.3" fill="#0000c4"/>
<rect x="1171.8" y="843.1" width="14.6" height="246.4" fill="#de0000"/>
<rect x="1190.6" y="1001.8" width="14.6" height="87.7" fill="#0000c4"/>
<rect x="1209.4" y="1037.2" width="14.6" height="52.3" fill="#0000c4"/>
<rect x="1228.2" y="1060.8" width="14.6" height="28.7" fill="#0000c4"/>
<rect x="1247.0" y="1035.3" width="14.6" height="54.2" fill="#de0000"/>
<rect x="1265.8" y="1004.4" width="14.6" height="85.1" fill="#de0000"/>
<rect x="1284.6" y="1035.8" width="14.6" height="53.7" fill="#0000c4"/>
<rect x="1303.3" y="1039.0" width="14.6" height="50.5" fill="#0000c4"/>
<rect x="1322.1" y="1026.1" width="14.6" height="63.4" fill="#de0000"/>
<rect x="1340.9" y="1066.0" width="14.6" height="23.5" fill="#0000c4"/>
<rect x="1359.7" y="1041.1" width="14.6" height="48.4" fill="#de0000"/>
<rect x="1378.5" y="1046.3" width="14.6" height="43.2" fill="#0000c4"/>
<rect x="1397.3" y="1048.2" width="14.6" height="41.3" fill="#0000c4"/>
<rect x="1416.1" y="1060.8" width="14.6" height="28.7" fill="#0000c4"/>
<rect x="1434.9" y="1052.9" width="14.6" height="36.6" fill="#de0000"/>
<rect x="1453.7" y="1055.5" width="14.6" height="34.0" fill="#0000c4"/>
<rect x="1472.4" y="1062.6" width="14.6" height="26.9" fill="#0000c4"/>
<rect x="1491.2" y="1058.7" width="14.6" height="30.8" fill="#de0000"/>
<rect x="1510.0" y="1035.2" width="14.6" height="54.3" fill="#de0000"/>
<rect x="1528.8" y="1039.3" width="14.6" height="50.2" fill="#0000c4"/>
<rect x="1547.6" y="1046.7" width="14.6" height="42.8" fill="#0000c4"/>
<rect x="1566.4" y="1039.3" width="14.6" height="50.2" fill="#de0000"/>
<rect x="1585.2" y="1038.3" width="14.6" height="51.2" fill="#de0000"/>
<rect x="1604.0" y="1004.3" width="14.6" height="85.2" fill="#de0000"/>
<rect x="1622.8" y="1041.0" width="14.6" height="48.5" fill="#0000c4"/>
<rect x="1641.5" y="1042.7" width="14.6" height="46.8" fill="#de0000"/>
<rect x="1660.3" y="1048.3" width="14.6" height="41.2" fill="#0000c4"/>
<rect x="1679.1" y="1060.7" width="14.6" height="28.8" fill="#0000c4"/>
<rect x="1697.9" y="1051.7" width="14.6" height="37.8" fill="#de0000"/>
<rect x="1716.7" y="1064.3" width="14.6" height="25.2" fill="#0000c4"/>
<rect x="1735.5" y="1054.0" width="14.6" height="35.5" fill="#de0000"/>
<rect x="1754.3" y="1043.3" width="14.6" height="46.2" fill="#de0000"/>
<rect x="1773.1" y="1045.0" width="14.6" height="44.5" fill="#0000c4"/>
<rect x="1791.9" y="957.3" width="14.6" height="132.2" fill="#de0000"/>
<rect x="1810.6" y="948.3" width="14.6" height="141.2" fill="#de0000"/>
<rect x="1829.4" y="790.0" width="14.6" height="299.5" fill="#de0000"/>
<rect x="1848.2" y="993.3" width="14.6" height="96.2" fill="#0000c4"/>
<rect x="1867.0" y="1041.0" width="14.6" height="48.5" fill="#0000c4"/>
<polyline fill="none" stroke="#3e9e6e" stroke-width="1.7" stroke-linejoin="round" points="15.0,1056.0 66.7,1054.0 200.0,1054.0 333.0,1048.3 416.7,1046.0 433.0,1041.7 500.0,1039.8 526.0,1035.8 605.0,1033.2 657.0,1029.3 723.0,1028.0 762.0,1023.5 880.0,1023.5 893.0,1026.0 1020.0,1026.7 1131.0,1025.4 1162.6,1023.5 1183.6,1019.3 1262.0,1019.3 1278.0,1016.7 1393.0,1016.2 1520.0,1018.3 1540.0,1017.7 1551.7,1021.0 1653.0,1021.7 1661.7,1023.3 1733.0,1024.0 1736.7,1025.3 1806.7,1024.7 1830.0,1019.3 1873.0,1019.3"/>
<polyline fill="none" stroke="#2c2cff" stroke-width="1.6" stroke-linejoin="round" points="14.2,1008.3 33.0,1008.5 51.8,1014.0 70.6,1019.2 89.4,1022.8 108.1,1026.5 126.9,1030.3 145.7,1037.8 164.5,1044.1 183.3,1047.3 202.1,1050.1 220.9,1051.1 239.7,1051.6 258.5,1051.2 277.2,1050.8 296.0,1050.5 314.8,1050.3 333.6,1050.0 352.4,1050.5 371.2,1050.7 390.0,1050.4 408.8,1050.8 427.6,1041.4 446.3,1038.3 465.1,1036.9 483.9,1036.2 502.7,1035.2 521.5,1031.2 540.3,1028.0 559.1,1026.4 577.9,1025.1 596.7,1024.7 615.4,1022.6 634.2,1021.5 653.0,1022.1 671.8,1019.0 690.6,1018.8 709.4,1017.7 728.2,1015.7 747.0,1014.3 765.8,1010.8 784.5,1010.5 803.3,1017.4 822.1,1016.7 840.9,1011.4 859.7,1006.5 878.5,1004.3 897.3,1007.0 916.1,1009.5 934.9,1008.2 953.7,1005.2 972.4,1005.1 991.2,1005.7 1010.0,1007.1 1028.8,1008.2 1047.6,1011.0 1066.4,1011.3 1085.2,1006.3 1104.0,1005.4 1122.8,1006.7 1141.5,1009.5 1160.3,1009.3 1179.1,1000.7 1197.9,1002.3 1216.7,1008.3 1235.5,1013.9 1254.3,1015.9 1273.1,1014.8 1291.9,1014.2 1310.6,1015.6 1329.4,1017.8 1348.2,1019.3 1367.0,1019.9 1385.8,1020.4 1404.6,1020.5 1423.4,1021.2 1442.2,1023.0 1461.0,1029.2 1479.7,1032.6 1498.5,1033.0 1517.3,1033.0 1536.1,1032.5 1554.9,1042.7 1573.7,1044.6 1592.5,1044.6 1611.3,1041.8 1630.1,1042.1 1648.8,1044.0 1667.6,1044.6 1686.4,1045.7 1705.2,1047.0 1724.0,1046.9 1742.8,1047.5 1761.6,1047.4 1780.4,1047.2 1799.2,1042.1 1817.9,1036.8 1836.7,1023.5 1855.5,1020.1 1874.3,1019.2"/>
<polyline fill="none" stroke="#1e1e1e" stroke-width="1.7" stroke-linejoin="round" points="14.2,1041.7 33.0,1043.3 51.8,1045.2 70.6,1047.1 89.4,1048.7 108.1,1050.0 126.9,1051.3 145.7,1052.6 164.5,1055.7 183.3,1057.4 202.1,1058.3 220.9,1058.0 239.7,1057.6 258.5,1055.7 277.2,1052.0 296.0,1051.2 314.8,1046.7 333.6,1046.7 352.4,1045.9 371.2,1044.0 390.0,1042.5 408.8,1043.6 427.6,1025.2 446.3,1020.8 465.1,1021.8 483.9,1021.3 502.7,1023.7 521.5,1015.7 540.3,1010.2 559.1,1008.8 577.9,1007.8 596.7,1005.8 615.4,1019.9 634.2,1022.2 653.0,1022.4 671.8,1016.8 690.6,1013.9 709.4,1019.7 728.2,1021.1 747.0,1019.9 765.8,1013.9 784.5,1015.2 803.3,1014.9 822.1,1011.3 840.9,1000.5 859.7,996.3 878.5,994.7 897.3,994.3 916.1,997.8 934.9,996.4 953.7,996.6 972.4,995.0 991.2,996.5 1010.0,1003.0 1028.8,1015.9 1047.6,1025.7 1066.4,1027.9 1085.2,1018.3 1104.0,1013.1 1122.8,1016.9 1141.5,1022.4 1160.3,1023.7 1179.1,1005.0 1197.9,1001.6 1216.7,1000.7 1235.5,1002.2 1254.3,1004.0 1273.1,1011.2 1291.9,1015.4 1310.6,1014.3 1329.4,1013.2 1348.2,1015.0 1367.0,1034.8 1385.8,1039.2 1404.6,1040.3 1423.4,1040.3 1442.2,1042.1 1461.0,1047.2 1479.7,1049.8 1498.5,1051.8 1517.3,1052.7 1536.1,1050.1 1554.9,1050.6 1573.7,1049.9 1592.5,1048.9 1611.3,1043.3 1630.1,1042.1 1648.8,1040.8 1667.6,1039.4 1686.4,1039.6 1705.2,1041.2 1724.0,1043.7 1742.8,1044.5 1761.6,1044.9 1780.4,1045.5 1799.2,1040.8 1817.9,1031.6 1836.7,1006.3 1855.5,1000.8 1874.3,998.8"/>
<polyline fill="none" stroke="#ff1e1e" stroke-width="1.4" stroke-linejoin="round" points="14.2,1046.7 33.0,1046.7 51.8,1049.5 70.6,1052.3 89.4,1053.9 108.1,1054.4 126.9,1056.2 145.7,1054.4 164.5,1057.0 183.3,1060.9 202.1,1062.3 220.9,1059.8 239.7,1060.9 258.5,1054.4 277.2,1043.0 296.0,1040.2 314.8,1033.7 333.6,1032.5 352.4,1037.3 371.2,1045.0 390.0,1044.9 408.8,1053.5 427.6,1018.0 446.3,1004.3 465.1,998.7 483.9,997.7 502.7,993.9 521.5,1013.5 540.3,1016.1 559.1,1018.8 577.9,1017.9 596.7,1017.7 615.4,1026.4 634.2,1028.3 653.0,1025.9 671.8,1015.7 690.6,1010.1 709.4,1012.9 728.2,1014.0 747.0,1014.0 765.8,1012.1 784.5,1020.3 803.3,1016.9 822.1,1008.6 840.9,987.0 859.7,980.5 878.5,969.1 897.3,971.8 916.1,987.0 934.9,1005.8 953.7,1012.7 972.4,1020.8 991.2,1021.2 1010.0,1019.0 1028.8,1025.9 1047.6,1038.7 1066.4,1035.1 1085.2,1015.4 1104.0,1007.1 1122.8,1007.9 1141.5,1006.1 1160.3,1012.3 1179.1,994.5 1197.9,996.1 1216.7,993.5 1235.5,998.2 1254.3,995.6 1273.1,1027.9 1291.9,1034.7 1310.6,1035.1 1329.4,1028.1 1348.2,1034.3 1367.0,1041.6 1385.8,1043.7 1404.6,1045.5 1423.4,1052.5 1442.2,1049.9 1461.0,1052.7 1479.7,1056.0 1498.5,1058.1 1517.3,1053.0 1536.1,1050.3 1554.9,1048.5 1573.7,1043.8 1592.5,1039.8 1611.3,1033.6 1630.1,1033.9 1648.8,1033.1 1667.6,1034.9 1686.4,1039.4 1705.2,1048.9 1724.0,1053.5 1742.8,1055.8 1761.6,1054.8 1780.4,1051.7 1799.2,1032.8 1817.9,1009.6 1836.7,956.8 1855.5,946.8 1874.3,946.0"/>
<rect x="12.8" y="84.4" width="122.2" height="27.2" fill="#e2e2e2"/>
<rect x="13.6" y="92.4" width="3.2" height="12.0" fill="#111"/>
<text x="21.6" y="106.9" font-size="24.0" fill="#111" font-weight="bold" textLength="68.9" lengthAdjust="spacingAndGlyphs">한화오션</text>
<text x="93.5" y="105.9" font-size="27.2" fill="#111" font-weight="bold" textLength="7.5" lengthAdjust="spacingAndGlyphs">(</text>
<text x="101.5" y="106.9" font-size="24.0" fill="#111" font-weight="bold" textLength="18.0" lengthAdjust="spacingAndGlyphs">통</text>
<text x="120.5" y="105.9" font-size="27.2" fill="#111" font-weight="bold" textLength="8.0" lengthAdjust="spacingAndGlyphs">)</text>
<rect x="136.3" y="92.4" width="4.2" height="12.0" fill="#f01010"/>
<text x="144.8" y="106.0" font-size="25.4" fill="#e82828" textLength="16.0" lengthAdjust="spacingAndGlyphs">MA</text>
<text x="169.6" y="106.0" font-size="25.4" fill="#e82828" textLength="8.0" lengthAdjust="spacingAndGlyphs">5</text>
<text x="190.4" y="106.0" font-size="25.4" fill="#1a1a1a" textLength="14.4" lengthAdjust="spacingAndGlyphs">10</text>
<text x="216.0" y="106.0" font-size="25.4" fill="#2c2cf0" textLength="15.2" lengthAdjust="spacingAndGlyphs">20</text>
<text x="243.2" y="106.0" font-size="25.4" fill="#3e9e6e" textLength="15.2" lengthAdjust="spacingAndGlyphs">60</text>
<text x="272.0" y="106.0" font-size="25.4" fill="#f030f0" textLength="22.4" lengthAdjust="spacingAndGlyphs">120</text>
<rect x="12.8" y="768.5" width="3.8" height="12.5" fill="#111"/>
<text x="20.5" y="783.0" font-size="21.7" fill="#1a1a1a" textLength="49.5" lengthAdjust="spacingAndGlyphs">거래량</text>
<rect x="78.0" y="769.0" width="3.6" height="12.0" fill="#f01010"/>
<text x="86.0" y="783.0" font-size="21.7" fill="#e82828" textLength="63.0" lengthAdjust="spacingAndGlyphs">거래이평</text>
<text x="160.5" y="783.0" font-size="24.6" fill="#e82828" textLength="7.5" lengthAdjust="spacingAndGlyphs">5</text>
<text x="180.5" y="783.0" font-size="24.6" fill="#1a1a1a" textLength="14.5" lengthAdjust="spacingAndGlyphs">10</text>
<text x="206.0" y="783.0" font-size="24.6" fill="#2c2cf0" textLength="15.5" lengthAdjust="spacingAndGlyphs">20</text>
<text x="233.0" y="783.0" font-size="24.6" fill="#3e9e6e" textLength="16.0" lengthAdjust="spacingAndGlyphs">60</text>
<text x="14.5" y="808.0" font-size="24.6" fill="#2e2e2e" textLength="74.0" lengthAdjust="spacingAndGlyphs">5,016,822</text>
<text x="88.5" y="808.0" font-size="22.0" fill="#2e2e2e" textLength="15.0" lengthAdjust="spacingAndGlyphs">주</text>
<text x="105.5" y="808.0" font-size="24.6" fill="#2e2e2e" textLength="63.0" lengthAdjust="spacingAndGlyphs">(49.94%)</text>
<rect x="1902.6" y="81.6" width="49.2" height="16.2" fill="#e6e6de" stroke="#aaaaa2" stroke-width="1"/>
<text x="1904.8" y="94.7" font-size="14.2" fill="#111" font-weight="bold" textLength="8.4" lengthAdjust="spacingAndGlyphs" stroke="#111" stroke-width="0.5">L</text>
<line x1="1914.9" y1="81.6" x2="1914.9" y2="97.8" stroke="#aaaaa2" stroke-width="1"/>
<text x="1917.1" y="94.7" font-size="14.2" fill="#111" font-weight="bold" textLength="4.0" lengthAdjust="spacingAndGlyphs" stroke="#111" stroke-width="0.5" dx="2.2">I</text>
<line x1="1927.2" y1="81.6" x2="1927.2" y2="97.8" stroke="#aaaaa2" stroke-width="1"/>
<text x="1929.4" y="94.7" font-size="14.2" fill="#111" font-weight="bold" textLength="8.4" lengthAdjust="spacingAndGlyphs" stroke="#111" stroke-width="0.5">R</text>
<line x1="1939.5" y1="81.6" x2="1939.5" y2="97.8" stroke="#aaaaa2" stroke-width="1"/>
<text x="1941.7" y="94.7" font-size="14.2" fill="#111" font-weight="bold" textLength="8.4" lengthAdjust="spacingAndGlyphs" stroke="#111" stroke-width="0.5">D</text>
<rect x="1986.6" y="82.0" width="11.2" height="15.2" fill="#ffffff" stroke="#222" stroke-width="2.4"/>
<rect x="1990.0" y="86.0" width="4.6" height="7.4" fill="#ffffff" stroke="#666" stroke-width="1.4"/>
<text x="1909.7" y="120.0" font-size="23.9" fill="#d83c3c" textLength="80.8" lengthAdjust="spacingAndGlyphs">LC 164.66%</text>
<text x="1909.7" y="142.0" font-size="23.9" fill="#3434c8" textLength="80.8" lengthAdjust="spacingAndGlyphs">HC -18.13%</text>
<rect x="1911.8" y="266.0" width="84.0" height="49.7" fill="#e81414"/>
<path d="M1901.2 281.3 L1909.3 271.5 L1909.3 291 Z" fill="#e81414"/>
<text x="1915.6" y="287.4" font-size="23.1" fill="#ffffff" textLength="46.2" lengthAdjust="spacingAndGlyphs">79,000</text>
<text x="1915.0" y="311.6" font-size="23.9" fill="#ffffff" textLength="54.3" lengthAdjust="spacingAndGlyphs">(1.67%)</text>
<rect x="1902.6" y="758.3" width="24.4" height="16.8" fill="#e6e6de" stroke="#aaaaa2" stroke-width="1"/>
<line x1="1914.8" y1="758.3" x2="1914.8" y2="775.0" stroke="#aaaaa2" stroke-width="1"/>
<text x="1908.8" y="772.0" font-size="13.0" fill="#111" font-weight="bold" text-anchor="middle">L</text>
<text x="1920.8" y="772.0" font-size="13.0" fill="#111" font-weight="bold" text-anchor="middle">I</text>
<rect x="1974.0" y="758.5" width="24.4" height="16.5" fill="#ffffff" stroke="#111" stroke-width="1.8"/>
<line x1="1986.2" y1="758.5" x2="1986.2" y2="775.0" stroke="#111" stroke-width="1.6"/>
<rect x="1977.3" y="762.0" width="5.8" height="9.5" fill="none" stroke="#444" stroke-width="1.4"/>
<path d="M1989 761.5 L1996 772.5 M1996 761.5 L1989 772.5" stroke="#444" stroke-width="1.4" fill="none"/>
<rect x="1911.7" y="1026.4" width="67.7" height="49.8" fill="#0c0cc8"/>
<path d="M1901.5 1041 L1910 1031.5 L1910 1050.5 Z" fill="#1a1ad0"/>
<text x="1915.5" y="1048.0" font-size="23.2" fill="#ffffff" textLength="46.5" lengthAdjust="spacingAndGlyphs">5,016K</text>
<text x="1915.0" y="1072.5" font-size="25.4" fill="#ffffff" textLength="62.5" lengthAdjust="spacingAndGlyphs">(49.94%)</text>
<rect x="263.0" y="184.0" width="323.2" height="132.7" fill="#ffffff" stroke="#00b050" stroke-width="6" fill-opacity="0.9"/>
<line x1="428.0" y1="319.7" x2="428.0" y2="576.0" stroke="#00b050" stroke-width="6"/>
<ellipse cx="428" cy="642.5" rx="29.5" ry="65.5" fill="none" stroke="#00b050" stroke-width="6"/>
<text x="336.0" y="242.5" font-size="35.5" fill="#000" font-family="'Noto Sans CJK KR', 'Liberation Sans', sans-serif">①</text>
<text x="372.5" y="241.5" font-size="40.0" fill="#000" textLength="149.5" lengthAdjust="spacingAndGlyphs" font-family="'Noto Sans CJK KR', 'Liberation Sans', sans-serif">강도높은</text>
<text x="292.5" y="286.0" font-size="40.0" fill="#000" textLength="257.0" lengthAdjust="spacingAndGlyphs" font-family="'Noto Sans CJK KR', 'Liberation Sans', sans-serif">뉴스, 재료 출현</text>
<line x1="524.5" y1="775.0" x2="426.8" y2="881.3" stroke="#00b050" stroke-width="6" stroke-linecap="butt"/>
<rect x="526.3" y="735.0" width="296.6" height="90.7" fill="#ffffff" stroke="#00b050" stroke-width="6" fill-opacity="0.9"/>
<ellipse cx="428.5" cy="973.7" rx="29.5" ry="133.3" fill="none" stroke="#00b050" stroke-width="6"/>
<text x="558.0" y="793.0" font-size="35.5" fill="#000" font-family="'Noto Sans CJK KR', 'Liberation Sans', sans-serif">②</text>
<text x="595.5" y="791.5" font-size="40.0" fill="#000" textLength="201.5" lengthAdjust="spacingAndGlyphs" font-family="'Noto Sans CJK KR', 'Liberation Sans', sans-serif">거래량 증가</text>
</svg></body></html>
